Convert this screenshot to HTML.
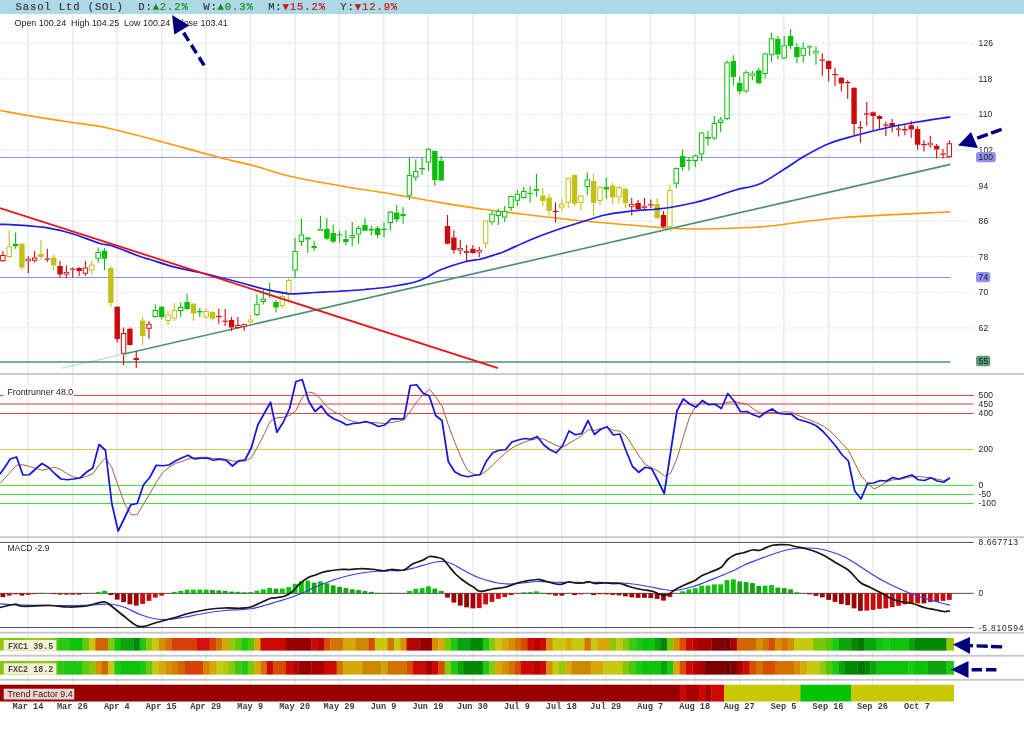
<!DOCTYPE html><html><head><meta charset="utf-8"><title>Sasol Ltd (SOL)</title><style>
html,body{margin:0;padding:0;background:#fff}body{width:1024px;height:735px;overflow:hidden;position:relative}
svg{position:absolute;left:0;top:0;display:block}
.hd{font-family:"Liberation Mono",monospace;font-size:10.6px;letter-spacing:0.86px;fill:#3a3a3a;stroke:#3a3a3a;stroke-width:0.2px}
.ar{font-family:"Liberation Sans",sans-serif;font-size:8.85px;fill:#222}
.ax{font-family:"Liberation Sans",sans-serif;font-size:8.5px;letter-spacing:0.1px;fill:#1c1c1c}
.xl{font-family:"Liberation Mono",monospace;font-size:8.6px;font-weight:bold;fill:#3c3c3c;text-anchor:middle}
.bl{font-family:"Liberation Mono",monospace;font-size:8.4px;font-weight:bold;fill:#484848}
</style></head><body>
<svg width="1024" height="735" viewBox="0 0 1024 735">
<rect x="0" y="0" width="1024" height="735" fill="#fff"/>
<path d="M28.25 14V702 M72.70 14V702 M117.15 14V702 M161.60 14V702 M206.05 14V702 M250.50 14V702 M294.95 14V702 M339.40 14V702 M383.85 14V702 M428.30 14V702 M472.75 14V702 M517.20 14V702 M561.65 14V702 M606.10 14V702 M650.55 14V702 M695.00 14V702 M739.45 14V702 M783.90 14V702 M828.35 14V702 M872.80 14V702 M917.25 14V702" stroke="#e9e9e9" stroke-width="1.3" fill="none"/>
<path d="M0 43.40H973.5 M0 78.95H973.5 M0 114.50H973.5 M0 150.05H973.5 M0 185.60H973.5 M0 221.15H973.5 M0 256.70H973.5 M0 292.25H973.5 M0 327.80H973.5" stroke="#e9e9e9" stroke-width="1.2" stroke-dasharray="2 1" fill="none"/>
<rect x="0" y="0" width="1024" height="14" fill="#add8e6"/>
<text class="hd" x="15.5" y="10" xml:space="preserve">Sasol Ltd (SOL)  D:<tspan fill="#1e8a1e" stroke="#1e8a1e">▲2.2%</tspan>  W:<tspan fill="#1e8a1e" stroke="#1e8a1e">▲0.3%</tspan>  M:<tspan fill="#c01818" stroke="#c01818">▼15.2%</tspan>  Y:<tspan fill="#c01818" stroke="#c01818">▼12.9%</tspan></text>
<text class="ar" style="font-size:8.93px" x="14.5" y="26.3" xml:space="preserve">Open 100.24  High 104.25  Low 100.24  Close 103.41</text>
<rect x="0" y="373.10" width="1024" height="1.8" fill="#c6c6c6"/>
<rect x="0" y="536.30" width="1024" height="1.8" fill="#c6c6c6"/>
<rect x="0" y="631.80" width="1024" height="1.8" fill="#c6c6c6"/>
<rect x="0" y="654.80" width="1024" height="1.8" fill="#c6c6c6"/>
<rect x="0" y="678.90" width="1024" height="1.8" fill="#c6c6c6"/>
<path d="M0 157.4H950.4M0 277.5H950.4" stroke="#8f8ff5" stroke-width="1" fill="none"/>
<path d="M0 362H950.4" stroke="#4c9272" stroke-width="1.6" fill="none"/>
<path d="M0.00 110.50C4.58 111.33 15.42 113.50 27.50 115.50C39.58 117.50 59.17 120.42 72.50 122.50C85.83 124.58 92.92 124.88 107.50 128.00C122.08 131.12 141.67 136.42 160.00 141.25C178.33 146.08 201.54 152.83 217.50 157.00C233.46 161.17 243.67 163.04 255.75 166.25C267.83 169.46 275.96 173.00 290.00 176.25C304.04 179.50 323.33 182.83 340.00 185.75C356.67 188.67 373.33 190.96 390.00 193.75C406.67 196.54 425.00 200.00 440.00 202.50C455.00 205.00 465.00 206.67 480.00 208.75C495.00 210.83 513.33 213.00 530.00 215.00C546.67 217.00 563.33 219.08 580.00 220.75C596.67 222.42 615.83 223.79 630.00 225.00C644.17 226.21 654.17 227.33 665.00 228.00C675.83 228.67 683.21 229.00 695.00 229.00C706.79 229.00 723.58 228.46 735.75 228.00C747.92 227.54 750.12 228.00 768.00 226.25C785.88 224.50 812.58 219.92 843.00 217.50C873.42 215.08 932.58 212.71 950.50 211.75" stroke="#ff9a0a" stroke-width="1.7" fill="none" stroke-linejoin="round"/>
<path d="M61 368.4L125 353.75" stroke="#4c9272" stroke-width="1.4" opacity="0.3" fill="none"/>
<path d="M125 353.75L950.4 164.4" stroke="#4c9272" stroke-width="1.6" fill="none"/>
<path d="M2.87 251.25V255.00M2.87 261.25V262.00" stroke="#cc0a0a" stroke-width="1.1" fill="none"/>
<rect x="0.67" y="255.50" width="4.40" height="5.25" fill="#fff" stroke="#cc0a0a" stroke-width="1"/>
<path d="M9.22 230.00V246.25M9.22 257.00V258.00" stroke="#c3c018" stroke-width="1.1" fill="none"/>
<rect x="7.02" y="246.75" width="4.40" height="9.75" fill="#fff" stroke="#c3c018" stroke-width="1"/>
<path d="M15.57 232.50V243.75M15.57 246.25V248.75" stroke="#0cbd0c" stroke-width="1.1" fill="none"/>
<rect x="12.87" y="243.75" width="5.4" height="2.50" fill="#0cbd0c"/>
<path d="M21.93 243.00V243.75M21.93 267.50V270.00" stroke="#c3c018" stroke-width="1.1" fill="none"/>
<rect x="19.23" y="243.75" width="5.4" height="23.75" fill="#c3c018"/>
<path d="M28.28 256.25V258.75M28.28 261.25V273.00" stroke="#cc0a0a" stroke-width="1.1" fill="none"/>
<rect x="25.98" y="259.15" width="4.60" height="1.70" fill="#fff" stroke="#cc0a0a" stroke-width="0.8"/>
<path d="M34.63 251.00V257.50M34.63 260.75V262.50" stroke="#cc0a0a" stroke-width="1.1" fill="none"/>
<rect x="32.43" y="258.00" width="4.40" height="2.25" fill="#fff" stroke="#cc0a0a" stroke-width="1"/>
<path d="M40.98 240.00V253.75M40.98 257.00V259.50" stroke="#c3c018" stroke-width="1.1" fill="none"/>
<rect x="38.28" y="253.75" width="5.4" height="3.25" fill="#c3c018"/>
<path d="M47.34 248.75V258.52M47.34 259.73V262.00" stroke="#cc0a0a" stroke-width="1.1" fill="none"/>
<rect x="44.64" y="258.52" width="5.4" height="1.20" fill="#cc0a0a"/>
<path d="M53.69 254.50V257.50M53.69 265.50V271.00" stroke="#c3c018" stroke-width="1.1" fill="none"/>
<rect x="50.99" y="257.50" width="5.4" height="8.00" fill="#c3c018"/>
<path d="M60.04 261.00V266.00M60.04 274.50V277.50" stroke="#cc0a0a" stroke-width="1.1" fill="none"/>
<rect x="57.34" y="266.00" width="5.4" height="8.50" fill="#cc0a0a"/>
<path d="M66.39 265.50V272.00M66.39 274.50V278.00" stroke="#cc0a0a" stroke-width="1.1" fill="none"/>
<rect x="64.09" y="272.40" width="4.60" height="1.70" fill="#fff" stroke="#cc0a0a" stroke-width="0.8"/>
<path d="M72.74 267.50V268.52M72.74 269.73V277.50" stroke="#cc0a0a" stroke-width="1.1" fill="none"/>
<rect x="70.04" y="268.52" width="5.4" height="1.20" fill="#cc0a0a"/>
<path d="M79.10 267.00V268.00M79.10 271.00V276.00" stroke="#cc0a0a" stroke-width="1.1" fill="none"/>
<rect x="76.40" y="268.00" width="5.4" height="3.00" fill="#cc0a0a"/>
<path d="M85.45 261.00V267.50M85.45 273.75V275.75" stroke="#cc0a0a" stroke-width="1.1" fill="none"/>
<rect x="83.25" y="268.00" width="4.40" height="5.25" fill="#fff" stroke="#cc0a0a" stroke-width="1"/>
<path d="M91.80 260.75V264.50M91.80 270.50V275.00" stroke="#c3c018" stroke-width="1.1" fill="none"/>
<rect x="89.60" y="265.00" width="4.40" height="5.00" fill="#fff" stroke="#c3c018" stroke-width="1"/>
<path d="M98.15 247.50V252.00M98.15 258.75V262.50" stroke="#0cbd0c" stroke-width="1.1" fill="none"/>
<rect x="95.95" y="252.50" width="4.40" height="5.75" fill="#fff" stroke="#0cbd0c" stroke-width="1"/>
<path d="M104.51 248.00V250.75M104.51 258.75V270.00" stroke="#0cbd0c" stroke-width="1.1" fill="none"/>
<rect x="101.81" y="250.75" width="5.4" height="8.00" fill="#0cbd0c"/>
<path d="M110.86 267.00V268.00M110.86 303.00V307.00" stroke="#c3c018" stroke-width="1.1" fill="none"/>
<rect x="108.16" y="268.00" width="5.4" height="35.00" fill="#c3c018"/>
<path d="M117.21 306.00V306.75M117.21 339.00V342.50" stroke="#cc0a0a" stroke-width="1.1" fill="none"/>
<rect x="114.51" y="306.75" width="5.4" height="32.25" fill="#cc0a0a"/>
<path d="M123.56 327.50V333.00M123.56 353.75V365.00" stroke="#cc0a0a" stroke-width="1.1" fill="none"/>
<rect x="121.36" y="333.50" width="4.40" height="19.75" fill="#fff" stroke="#cc0a0a" stroke-width="1"/>
<path d="M129.91 327.50V328.75M129.91 345.00V345.50" stroke="#cc0a0a" stroke-width="1.1" fill="none"/>
<rect x="127.21" y="328.75" width="5.4" height="16.25" fill="#cc0a0a"/>
<path d="M136.27 351.00V358.00M136.27 360.00V368.00" stroke="#cc0a0a" stroke-width="1.1" fill="none"/>
<rect x="133.57" y="358.00" width="5.4" height="2.00" fill="#cc0a0a"/>
<path d="M142.62 317.00V320.50M142.62 336.00V345.00" stroke="#c3c018" stroke-width="1.1" fill="none"/>
<rect x="139.92" y="320.50" width="5.4" height="15.50" fill="#c3c018"/>
<path d="M148.97 321.00V323.75M148.97 328.75V338.75" stroke="#cc0a0a" stroke-width="1.1" fill="none"/>
<rect x="146.77" y="324.25" width="4.40" height="4.00" fill="#fff" stroke="#cc0a0a" stroke-width="1"/>
<path d="M155.32 304.50V310.00M155.32 317.00V317.50" stroke="#0cbd0c" stroke-width="1.1" fill="none"/>
<rect x="153.12" y="310.50" width="4.40" height="6.00" fill="#fff" stroke="#0cbd0c" stroke-width="1"/>
<path d="M161.68 306.00V306.75M161.68 317.00V319.50" stroke="#0cbd0c" stroke-width="1.1" fill="none"/>
<rect x="158.98" y="306.75" width="5.4" height="10.25" fill="#0cbd0c"/>
<path d="M168.03 311.00V314.50M168.03 321.00V325.00" stroke="#c3c018" stroke-width="1.1" fill="none"/>
<rect x="165.83" y="315.00" width="4.40" height="5.50" fill="#fff" stroke="#c3c018" stroke-width="1"/>
<path d="M174.38 303.00V310.00M174.38 318.75V321.00" stroke="#c3c018" stroke-width="1.1" fill="none"/>
<rect x="172.18" y="310.50" width="4.40" height="7.75" fill="#fff" stroke="#c3c018" stroke-width="1"/>
<path d="M180.73 302.50V307.00M180.73 311.00V317.00" stroke="#0cbd0c" stroke-width="1.1" fill="none"/>
<rect x="178.53" y="307.50" width="4.40" height="3.00" fill="#fff" stroke="#0cbd0c" stroke-width="1"/>
<path d="M187.08 293.75V302.00M187.08 309.00V310.00" stroke="#0cbd0c" stroke-width="1.1" fill="none"/>
<rect x="184.38" y="302.00" width="5.4" height="7.00" fill="#0cbd0c"/>
<path d="M193.44 303.00V303.75M193.44 313.75V321.00" stroke="#c3c018" stroke-width="1.1" fill="none"/>
<rect x="190.74" y="303.75" width="5.4" height="10.00" fill="#c3c018"/>
<path d="M199.79 308.00V311.00M199.79 312.50V317.00" stroke="#0cbd0c" stroke-width="1.1" fill="none"/>
<rect x="197.09" y="311.00" width="5.4" height="1.50" fill="#0cbd0c"/>
<path d="M206.14 308.75V311.00M206.14 317.50V318.75" stroke="#c3c018" stroke-width="1.1" fill="none"/>
<rect x="203.94" y="311.50" width="4.40" height="5.50" fill="#fff" stroke="#c3c018" stroke-width="1"/>
<path d="M212.49 311.00V312.00M212.49 318.75V320.50" stroke="#c3c018" stroke-width="1.1" fill="none"/>
<rect x="209.79" y="312.00" width="5.4" height="6.75" fill="#c3c018"/>
<path d="M218.84 308.75V315.90M218.84 317.10V323.75" stroke="#cc0a0a" stroke-width="1.1" fill="none"/>
<rect x="216.14" y="315.90" width="5.4" height="1.20" fill="#cc0a0a"/>
<path d="M225.20 309.00V320.65M225.20 321.85V326.00" stroke="#cc0a0a" stroke-width="1.1" fill="none"/>
<rect x="222.50" y="320.65" width="5.4" height="1.20" fill="#cc0a0a"/>
<path d="M231.55 317.00V320.00M231.55 327.50V331.00" stroke="#cc0a0a" stroke-width="1.1" fill="none"/>
<rect x="228.85" y="320.00" width="5.4" height="7.50" fill="#cc0a0a"/>
<path d="M237.90 317.00V325.00M237.90 328.00V328.75" stroke="#cc0a0a" stroke-width="1.1" fill="none"/>
<rect x="235.70" y="325.50" width="4.40" height="2.00" fill="#fff" stroke="#cc0a0a" stroke-width="1"/>
<path d="M244.25 323.75V324.00M244.25 326.75V331.00" stroke="#cc0a0a" stroke-width="1.1" fill="none"/>
<rect x="241.95" y="324.40" width="4.60" height="1.95" fill="#fff" stroke="#cc0a0a" stroke-width="0.8"/>
<path d="M250.61 315.50V319.50M250.61 322.50V323.75" stroke="#c3c018" stroke-width="1.1" fill="none"/>
<rect x="248.41" y="320.00" width="4.40" height="2.00" fill="#fff" stroke="#c3c018" stroke-width="1"/>
<path d="M256.96 294.50V303.75M256.96 315.00V316.00" stroke="#0cbd0c" stroke-width="1.1" fill="none"/>
<rect x="254.76" y="304.25" width="4.40" height="10.25" fill="#fff" stroke="#0cbd0c" stroke-width="1"/>
<path d="M263.31 290.00V298.75M263.31 302.00V304.50" stroke="#0cbd0c" stroke-width="1.1" fill="none"/>
<rect x="261.11" y="299.25" width="4.40" height="2.25" fill="#fff" stroke="#0cbd0c" stroke-width="1"/>
<path d="M269.66 283.00V289.90M269.66 291.10V298.00" stroke="#0cbd0c" stroke-width="1.1" fill="none"/>
<rect x="266.96" y="289.90" width="5.4" height="1.20" fill="#0cbd0c"/>
<path d="M276.01 300.00V302.00M276.01 307.50V312.50" stroke="#0cbd0c" stroke-width="1.1" fill="none"/>
<rect x="273.31" y="302.00" width="5.4" height="5.50" fill="#0cbd0c"/>
<path d="M282.37 293.75V296.00M282.37 306.00V308.00" stroke="#c3c018" stroke-width="1.1" fill="none"/>
<rect x="280.17" y="296.50" width="4.40" height="9.00" fill="#fff" stroke="#c3c018" stroke-width="1"/>
<path d="M288.72 277.00V280.00M288.72 295.00V300.00" stroke="#c3c018" stroke-width="1.1" fill="none"/>
<rect x="286.52" y="280.50" width="4.40" height="14.00" fill="#fff" stroke="#c3c018" stroke-width="1"/>
<path d="M295.07 238.00V251.00M295.07 270.50V278.00" stroke="#0cbd0c" stroke-width="1.1" fill="none"/>
<rect x="292.87" y="251.50" width="4.40" height="18.50" fill="#fff" stroke="#0cbd0c" stroke-width="1"/>
<path d="M301.42 218.75V234.50M301.42 242.00V246.00" stroke="#0cbd0c" stroke-width="1.1" fill="none"/>
<rect x="299.22" y="235.00" width="4.40" height="6.50" fill="#fff" stroke="#0cbd0c" stroke-width="1"/>
<path d="M307.78 237.00V237.50M307.78 239.50V253.00" stroke="#0cbd0c" stroke-width="1.1" fill="none"/>
<rect x="305.08" y="237.50" width="5.4" height="2.00" fill="#0cbd0c"/>
<path d="M314.13 240.75V246.00M314.13 248.00V251.00" stroke="#0cbd0c" stroke-width="1.1" fill="none"/>
<rect x="311.43" y="246.00" width="5.4" height="2.00" fill="#0cbd0c"/>
<path d="M320.48 215.75V228.75M320.48 231.00V231.00" stroke="#0cbd0c" stroke-width="1.1" fill="none"/>
<rect x="318.18" y="229.15" width="4.60" height="1.45" fill="#fff" stroke="#0cbd0c" stroke-width="0.8"/>
<path d="M326.83 218.00V228.75M326.83 238.75V240.00" stroke="#0cbd0c" stroke-width="1.1" fill="none"/>
<rect x="324.13" y="228.75" width="5.4" height="10.00" fill="#0cbd0c"/>
<path d="M333.18 224.50V233.00M333.18 241.75V243.00" stroke="#0cbd0c" stroke-width="1.1" fill="none"/>
<rect x="330.48" y="233.00" width="5.4" height="8.75" fill="#0cbd0c"/>
<path d="M339.54 231.00V234.28M339.54 235.47V242.50" stroke="#0cbd0c" stroke-width="1.1" fill="none"/>
<rect x="336.84" y="234.28" width="5.4" height="1.20" fill="#0cbd0c"/>
<path d="M345.89 230.50V239.00M345.89 242.00V245.50" stroke="#0cbd0c" stroke-width="1.1" fill="none"/>
<rect x="343.19" y="239.00" width="5.4" height="3.00" fill="#0cbd0c"/>
<path d="M352.24 222.00V235.00M352.24 238.00V246.00" stroke="#0cbd0c" stroke-width="1.1" fill="none"/>
<rect x="350.04" y="235.50" width="4.40" height="2.00" fill="#fff" stroke="#0cbd0c" stroke-width="1"/>
<path d="M358.59 226.00V228.00M358.59 234.50V243.75" stroke="#0cbd0c" stroke-width="1.1" fill="none"/>
<rect x="356.39" y="228.50" width="4.40" height="5.50" fill="#fff" stroke="#0cbd0c" stroke-width="1"/>
<path d="M364.95 218.00V225.00M364.95 230.75V231.00" stroke="#0cbd0c" stroke-width="1.1" fill="none"/>
<rect x="362.25" y="225.00" width="5.4" height="5.75" fill="#0cbd0c"/>
<path d="M371.30 226.00V229.00M371.30 230.50V235.50" stroke="#0cbd0c" stroke-width="1.1" fill="none"/>
<rect x="368.60" y="229.00" width="5.4" height="1.50" fill="#0cbd0c"/>
<path d="M377.65 226.00V228.00M377.65 235.00V238.00" stroke="#0cbd0c" stroke-width="1.1" fill="none"/>
<rect x="374.95" y="228.00" width="5.4" height="7.00" fill="#0cbd0c"/>
<path d="M384.00 222.50V228.75M384.00 230.00V237.50" stroke="#0cbd0c" stroke-width="1.1" fill="none"/>
<rect x="381.30" y="228.75" width="5.4" height="1.25" fill="#0cbd0c"/>
<path d="M390.35 210.75V211.75M390.35 223.00V230.50" stroke="#0cbd0c" stroke-width="1.1" fill="none"/>
<rect x="388.15" y="212.25" width="4.40" height="10.25" fill="#fff" stroke="#0cbd0c" stroke-width="1"/>
<path d="M396.71 205.00V212.50M396.71 219.50V222.00" stroke="#0cbd0c" stroke-width="1.1" fill="none"/>
<rect x="394.01" y="212.50" width="5.4" height="7.00" fill="#0cbd0c"/>
<path d="M403.06 207.00V214.00M403.06 216.00V223.75" stroke="#0cbd0c" stroke-width="1.1" fill="none"/>
<rect x="400.36" y="214.00" width="5.4" height="2.00" fill="#0cbd0c"/>
<path d="M409.41 157.50V175.00M409.41 195.75V200.00" stroke="#0cbd0c" stroke-width="1.1" fill="none"/>
<rect x="407.21" y="175.50" width="4.40" height="19.75" fill="#fff" stroke="#0cbd0c" stroke-width="1"/>
<path d="M415.76 159.50V171.00M415.76 177.50V181.00" stroke="#0cbd0c" stroke-width="1.1" fill="none"/>
<rect x="413.56" y="171.50" width="4.40" height="5.50" fill="#fff" stroke="#0cbd0c" stroke-width="1"/>
<path d="M422.12 157.50V168.00M422.12 169.50V175.00" stroke="#0cbd0c" stroke-width="1.1" fill="none"/>
<rect x="419.42" y="168.00" width="5.4" height="1.50" fill="#0cbd0c"/>
<path d="M428.47 148.00V148.75M428.47 162.50V171.00" stroke="#0cbd0c" stroke-width="1.1" fill="none"/>
<rect x="426.27" y="149.25" width="4.40" height="12.75" fill="#fff" stroke="#0cbd0c" stroke-width="1"/>
<path d="M434.82 150.75V151.00M434.82 180.00V185.75" stroke="#0cbd0c" stroke-width="1.1" fill="none"/>
<rect x="432.12" y="151.00" width="5.4" height="29.00" fill="#0cbd0c"/>
<path d="M441.17 156.00V160.75M441.17 180.50V181.00" stroke="#0cbd0c" stroke-width="1.1" fill="none"/>
<rect x="438.47" y="160.75" width="5.4" height="19.75" fill="#0cbd0c"/>
<path d="M447.52 215.00V226.00M447.52 243.75V244.50" stroke="#cc0a0a" stroke-width="1.1" fill="none"/>
<rect x="444.82" y="226.00" width="5.4" height="17.75" fill="#cc0a0a"/>
<path d="M453.88 230.50V237.50M453.88 250.00V253.75" stroke="#cc0a0a" stroke-width="1.1" fill="none"/>
<rect x="451.18" y="237.50" width="5.4" height="12.50" fill="#cc0a0a"/>
<path d="M460.23 240.00V248.00M460.23 250.50V254.50" stroke="#cc0a0a" stroke-width="1.1" fill="none"/>
<rect x="457.93" y="248.40" width="4.60" height="1.70" fill="#fff" stroke="#cc0a0a" stroke-width="0.8"/>
<path d="M466.58 245.00V251.00M466.58 253.00V261.00" stroke="#cc0a0a" stroke-width="1.1" fill="none"/>
<rect x="464.28" y="251.40" width="4.60" height="1.20" fill="#fff" stroke="#cc0a0a" stroke-width="0.8"/>
<path d="M472.93 245.00V248.75M472.93 253.00V253.75" stroke="#cc0a0a" stroke-width="1.1" fill="none"/>
<rect x="470.23" y="248.75" width="5.4" height="4.25" fill="#cc0a0a"/>
<path d="M479.28 246.75V250.00M479.28 252.50V257.00" stroke="#cc0a0a" stroke-width="1.1" fill="none"/>
<rect x="476.98" y="250.40" width="4.60" height="1.70" fill="#fff" stroke="#cc0a0a" stroke-width="0.8"/>
<path d="M485.64 220.00V220.50M485.64 243.75V248.00" stroke="#c3c018" stroke-width="1.1" fill="none"/>
<rect x="483.44" y="221.00" width="4.40" height="22.25" fill="#fff" stroke="#c3c018" stroke-width="1"/>
<path d="M491.99 211.00V213.75M491.99 222.25V225.00" stroke="#0cbd0c" stroke-width="1.1" fill="none"/>
<rect x="489.79" y="214.25" width="4.40" height="7.50" fill="#fff" stroke="#0cbd0c" stroke-width="1"/>
<path d="M498.34 208.75V211.00M498.34 216.00V225.00" stroke="#0cbd0c" stroke-width="1.1" fill="none"/>
<rect x="496.14" y="211.50" width="4.40" height="4.00" fill="#fff" stroke="#0cbd0c" stroke-width="1"/>
<path d="M504.69 206.00V211.00M504.69 217.50V222.00" stroke="#0cbd0c" stroke-width="1.1" fill="none"/>
<rect x="502.49" y="211.50" width="4.40" height="5.50" fill="#fff" stroke="#0cbd0c" stroke-width="1"/>
<path d="M511.05 195.75V196.00M511.05 208.00V211.00" stroke="#0cbd0c" stroke-width="1.1" fill="none"/>
<rect x="508.85" y="196.50" width="4.40" height="11.00" fill="#fff" stroke="#0cbd0c" stroke-width="1"/>
<path d="M517.40 190.00V193.75M517.40 200.75V206.00" stroke="#0cbd0c" stroke-width="1.1" fill="none"/>
<rect x="515.20" y="194.25" width="4.40" height="6.00" fill="#fff" stroke="#0cbd0c" stroke-width="1"/>
<path d="M523.75 187.00V191.00M523.75 198.00V198.75" stroke="#0cbd0c" stroke-width="1.1" fill="none"/>
<rect x="521.55" y="191.50" width="4.40" height="6.00" fill="#fff" stroke="#0cbd0c" stroke-width="1"/>
<path d="M530.10 186.00V192.78M530.10 193.97V202.50" stroke="#0cbd0c" stroke-width="1.1" fill="none"/>
<rect x="527.40" y="192.78" width="5.4" height="1.20" fill="#0cbd0c"/>
<path d="M536.45 173.75V189.00M536.45 190.75V197.00" stroke="#0cbd0c" stroke-width="1.1" fill="none"/>
<rect x="533.75" y="189.00" width="5.4" height="1.75" fill="#0cbd0c"/>
<path d="M542.81 188.00V195.50M542.81 201.00V206.00" stroke="#c3c018" stroke-width="1.1" fill="none"/>
<rect x="540.11" y="195.50" width="5.4" height="5.50" fill="#c3c018"/>
<path d="M549.16 193.75V197.50M549.16 211.00V215.50" stroke="#c3c018" stroke-width="1.1" fill="none"/>
<rect x="546.46" y="197.50" width="5.4" height="13.50" fill="#c3c018"/>
<path d="M555.51 202.50V210.90M555.51 212.10V222.50" stroke="#cc0a0a" stroke-width="1.1" fill="none"/>
<rect x="552.81" y="210.90" width="5.4" height="1.20" fill="#cc0a0a"/>
<path d="M561.86 198.75V203.75M561.86 207.50V211.00" stroke="#c3c018" stroke-width="1.1" fill="none"/>
<rect x="559.66" y="204.25" width="4.40" height="2.75" fill="#fff" stroke="#c3c018" stroke-width="1"/>
<path d="M568.22 177.50V178.00M568.22 203.00V208.00" stroke="#c3c018" stroke-width="1.1" fill="none"/>
<rect x="566.02" y="178.50" width="4.40" height="24.00" fill="#fff" stroke="#c3c018" stroke-width="1"/>
<path d="M574.57 174.50V175.00M574.57 203.75V206.00" stroke="#c3c018" stroke-width="1.1" fill="none"/>
<rect x="571.87" y="175.00" width="5.4" height="28.75" fill="#c3c018"/>
<path d="M580.92 195.00V195.50M580.92 203.00V210.00" stroke="#c3c018" stroke-width="1.1" fill="none"/>
<rect x="578.72" y="196.00" width="4.40" height="6.50" fill="#fff" stroke="#c3c018" stroke-width="1"/>
<path d="M587.27 172.50V179.50M587.27 187.00V195.00" stroke="#0cbd0c" stroke-width="1.1" fill="none"/>
<rect x="585.07" y="180.00" width="4.40" height="6.50" fill="#fff" stroke="#0cbd0c" stroke-width="1"/>
<path d="M593.62 173.75V181.00M593.62 203.00V216.00" stroke="#c3c018" stroke-width="1.1" fill="none"/>
<rect x="590.92" y="181.00" width="5.4" height="22.00" fill="#c3c018"/>
<path d="M599.98 186.00V187.00M599.98 201.00V205.00" stroke="#c3c018" stroke-width="1.1" fill="none"/>
<rect x="597.78" y="187.50" width="4.40" height="13.00" fill="#fff" stroke="#c3c018" stroke-width="1"/>
<path d="M606.33 177.50V187.00M606.33 189.50V198.75" stroke="#0cbd0c" stroke-width="1.1" fill="none"/>
<rect x="603.63" y="187.00" width="5.4" height="2.50" fill="#0cbd0c"/>
<path d="M612.68 182.50V185.50M612.68 197.50V203.75" stroke="#c3c018" stroke-width="1.1" fill="none"/>
<rect x="609.98" y="185.50" width="5.4" height="12.00" fill="#c3c018"/>
<path d="M619.03 186.00V187.00M619.03 197.50V203.75" stroke="#c3c018" stroke-width="1.1" fill="none"/>
<rect x="616.83" y="187.50" width="4.40" height="9.50" fill="#fff" stroke="#c3c018" stroke-width="1"/>
<path d="M625.39 187.50V188.75M625.39 203.00V208.00" stroke="#c3c018" stroke-width="1.1" fill="none"/>
<rect x="622.69" y="188.75" width="5.4" height="14.25" fill="#c3c018"/>
<path d="M631.74 198.00V204.00M631.74 206.75V215.50" stroke="#cc0a0a" stroke-width="1.1" fill="none"/>
<rect x="629.44" y="204.40" width="4.60" height="1.95" fill="#fff" stroke="#cc0a0a" stroke-width="0.8"/>
<path d="M638.09 200.00V203.00M638.09 209.00V210.00" stroke="#cc0a0a" stroke-width="1.1" fill="none"/>
<rect x="635.39" y="203.00" width="5.4" height="6.00" fill="#cc0a0a"/>
<path d="M644.44 198.00V205.75M644.44 208.00V210.00" stroke="#cc0a0a" stroke-width="1.1" fill="none"/>
<rect x="642.14" y="206.15" width="4.60" height="1.45" fill="#fff" stroke="#cc0a0a" stroke-width="0.8"/>
<path d="M650.79 199.50V204.28M650.79 205.47V208.00" stroke="#cc0a0a" stroke-width="1.1" fill="none"/>
<rect x="648.09" y="204.28" width="5.4" height="1.20" fill="#cc0a0a"/>
<path d="M657.15 198.00V204.00M657.15 218.00V219.50" stroke="#c3c018" stroke-width="1.1" fill="none"/>
<rect x="654.45" y="204.00" width="5.4" height="14.00" fill="#c3c018"/>
<path d="M663.50 211.00V215.00M663.50 226.75V228.00" stroke="#cc0a0a" stroke-width="1.1" fill="none"/>
<rect x="660.80" y="215.00" width="5.4" height="11.75" fill="#cc0a0a"/>
<path d="M669.85 185.00V190.00M669.85 227.50V228.75" stroke="#c3c018" stroke-width="1.1" fill="none"/>
<rect x="667.65" y="190.50" width="4.40" height="36.50" fill="#fff" stroke="#c3c018" stroke-width="1"/>
<path d="M676.20 167.50V168.00M676.20 183.75V188.00" stroke="#0cbd0c" stroke-width="1.1" fill="none"/>
<rect x="674.00" y="168.50" width="4.40" height="14.75" fill="#fff" stroke="#0cbd0c" stroke-width="1"/>
<path d="M682.56 149.50V156.00M682.56 167.00V170.50" stroke="#0cbd0c" stroke-width="1.1" fill="none"/>
<rect x="679.86" y="156.00" width="5.4" height="11.00" fill="#0cbd0c"/>
<path d="M688.91 157.00V159.78M688.91 160.97V170.50" stroke="#0cbd0c" stroke-width="1.1" fill="none"/>
<rect x="686.21" y="159.78" width="5.4" height="1.20" fill="#0cbd0c"/>
<path d="M695.26 154.50V155.50M695.26 161.00V167.00" stroke="#0cbd0c" stroke-width="1.1" fill="none"/>
<rect x="693.06" y="156.00" width="4.40" height="4.50" fill="#fff" stroke="#0cbd0c" stroke-width="1"/>
<path d="M701.61 132.00V132.50M701.61 154.50V161.00" stroke="#0cbd0c" stroke-width="1.1" fill="none"/>
<rect x="699.41" y="133.00" width="4.40" height="21.00" fill="#fff" stroke="#0cbd0c" stroke-width="1"/>
<path d="M707.96 130.50V137.00M707.96 138.75V145.50" stroke="#0cbd0c" stroke-width="1.1" fill="none"/>
<rect x="705.26" y="137.00" width="5.4" height="1.75" fill="#0cbd0c"/>
<path d="M714.32 116.00V123.00M714.32 138.50V140.00" stroke="#0cbd0c" stroke-width="1.1" fill="none"/>
<rect x="712.12" y="123.50" width="4.40" height="14.50" fill="#fff" stroke="#0cbd0c" stroke-width="1"/>
<path d="M720.67 117.00V119.50M720.67 123.00V132.00" stroke="#0cbd0c" stroke-width="1.1" fill="none"/>
<rect x="718.47" y="120.00" width="4.40" height="2.50" fill="#fff" stroke="#0cbd0c" stroke-width="1"/>
<path d="M727.02 60.25V62.25M727.02 119.00V120.25" stroke="#0cbd0c" stroke-width="1.1" fill="none"/>
<rect x="724.82" y="62.75" width="4.40" height="55.75" fill="#fff" stroke="#0cbd0c" stroke-width="1"/>
<path d="M733.37 55.25V61.00M733.37 77.00V85.25" stroke="#0cbd0c" stroke-width="1.1" fill="none"/>
<rect x="730.67" y="61.00" width="5.4" height="16.00" fill="#0cbd0c"/>
<path d="M739.73 76.50V82.75M739.73 91.50V94.50" stroke="#0cbd0c" stroke-width="1.1" fill="none"/>
<rect x="737.03" y="82.75" width="5.4" height="8.75" fill="#0cbd0c"/>
<path d="M746.08 70.25V72.25M746.08 91.50V92.75" stroke="#0cbd0c" stroke-width="1.1" fill="none"/>
<rect x="743.88" y="72.75" width="4.40" height="18.25" fill="#fff" stroke="#0cbd0c" stroke-width="1"/>
<path d="M752.43 71.00V73.25M752.43 75.75V80.25" stroke="#0cbd0c" stroke-width="1.1" fill="none"/>
<rect x="750.13" y="73.65" width="4.60" height="1.70" fill="#fff" stroke="#0cbd0c" stroke-width="0.8"/>
<path d="M758.78 67.75V70.25M758.78 83.25V84.50" stroke="#0cbd0c" stroke-width="1.1" fill="none"/>
<rect x="756.08" y="70.25" width="5.4" height="13.00" fill="#0cbd0c"/>
<path d="M765.13 52.75V53.50M765.13 74.00V78.50" stroke="#0cbd0c" stroke-width="1.1" fill="none"/>
<rect x="762.93" y="54.00" width="4.40" height="19.50" fill="#fff" stroke="#0cbd0c" stroke-width="1"/>
<path d="M771.49 32.75V38.25M771.49 55.25V62.00" stroke="#0cbd0c" stroke-width="1.1" fill="none"/>
<rect x="769.29" y="38.75" width="4.40" height="16.00" fill="#fff" stroke="#0cbd0c" stroke-width="1"/>
<path d="M777.84 36.00V39.00M777.84 54.50V59.50" stroke="#0cbd0c" stroke-width="1.1" fill="none"/>
<rect x="775.14" y="39.00" width="5.4" height="15.50" fill="#0cbd0c"/>
<path d="M784.19 36.00V45.25M784.19 58.50V59.50" stroke="#0cbd0c" stroke-width="1.1" fill="none"/>
<rect x="781.99" y="45.75" width="4.40" height="12.25" fill="#fff" stroke="#0cbd0c" stroke-width="1"/>
<path d="M790.54 29.00V36.00M790.54 46.00V49.00" stroke="#0cbd0c" stroke-width="1.1" fill="none"/>
<rect x="787.84" y="36.00" width="5.4" height="10.00" fill="#0cbd0c"/>
<path d="M796.89 43.50V47.00M796.89 57.25V63.25" stroke="#0cbd0c" stroke-width="1.1" fill="none"/>
<rect x="794.19" y="47.00" width="5.4" height="10.25" fill="#0cbd0c"/>
<path d="M803.25 42.25V47.75M803.25 55.75V62.75" stroke="#0cbd0c" stroke-width="1.1" fill="none"/>
<rect x="801.05" y="48.25" width="4.40" height="7.00" fill="#fff" stroke="#0cbd0c" stroke-width="1"/>
<path d="M809.60 45.25V46.27M809.60 47.48V56.00" stroke="#0cbd0c" stroke-width="1.1" fill="none"/>
<rect x="806.90" y="46.27" width="5.4" height="1.20" fill="#0cbd0c"/>
<path d="M815.95 46.50V51.00M815.95 53.50V64.75" stroke="#0cbd0c" stroke-width="1.1" fill="none"/>
<rect x="813.65" y="51.40" width="4.60" height="1.70" fill="#fff" stroke="#0cbd0c" stroke-width="0.8"/>
<path d="M822.30 53.25V59.50M822.30 60.75V75.75" stroke="#cc0a0a" stroke-width="1.1" fill="none"/>
<rect x="819.60" y="59.50" width="5.4" height="1.25" fill="#cc0a0a"/>
<path d="M828.66 60.25V61.00M828.66 69.00V81.50" stroke="#cc0a0a" stroke-width="1.1" fill="none"/>
<rect x="825.96" y="61.00" width="5.4" height="8.00" fill="#cc0a0a"/>
<path d="M835.01 67.75V74.00M835.01 75.25V86.00" stroke="#cc0a0a" stroke-width="1.1" fill="none"/>
<rect x="832.31" y="74.00" width="5.4" height="1.25" fill="#cc0a0a"/>
<path d="M841.36 77.00V77.75M841.36 83.50V91.50" stroke="#cc0a0a" stroke-width="1.1" fill="none"/>
<rect x="838.66" y="77.75" width="5.4" height="5.75" fill="#cc0a0a"/>
<path d="M847.71 80.25V82.00M847.71 83.25V99.00" stroke="#cc0a0a" stroke-width="1.1" fill="none"/>
<rect x="845.01" y="82.00" width="5.4" height="1.25" fill="#cc0a0a"/>
<path d="M854.06 87.25V87.75M854.06 124.00V135.25" stroke="#cc0a0a" stroke-width="1.1" fill="none"/>
<rect x="851.36" y="87.75" width="5.4" height="36.25" fill="#cc0a0a"/>
<path d="M860.42 121.00V127.15M860.42 128.35V142.75" stroke="#cc0a0a" stroke-width="1.1" fill="none"/>
<rect x="857.72" y="127.15" width="5.4" height="1.20" fill="#cc0a0a"/>
<path d="M866.77 102.00V113.40M866.77 114.60V125.75" stroke="#cc0a0a" stroke-width="1.1" fill="none"/>
<rect x="864.07" y="113.40" width="5.4" height="1.20" fill="#cc0a0a"/>
<path d="M873.12 111.50V112.25M873.12 116.00V131.00" stroke="#cc0a0a" stroke-width="1.1" fill="none"/>
<rect x="870.42" y="112.25" width="5.4" height="3.75" fill="#cc0a0a"/>
<path d="M879.47 115.25V116.00M879.47 119.00V129.00" stroke="#cc0a0a" stroke-width="1.1" fill="none"/>
<rect x="876.77" y="116.00" width="5.4" height="3.00" fill="#cc0a0a"/>
<path d="M885.83 121.50V124.50M885.83 125.75V136.00" stroke="#cc0a0a" stroke-width="1.1" fill="none"/>
<rect x="883.13" y="124.50" width="5.4" height="1.25" fill="#cc0a0a"/>
<path d="M892.18 119.00V123.00M892.18 126.50V132.00" stroke="#cc0a0a" stroke-width="1.1" fill="none"/>
<rect x="889.48" y="123.00" width="5.4" height="3.50" fill="#cc0a0a"/>
<path d="M898.53 124.00V128.50M898.53 129.75V136.50" stroke="#cc0a0a" stroke-width="1.1" fill="none"/>
<rect x="895.83" y="128.50" width="5.4" height="1.25" fill="#cc0a0a"/>
<path d="M904.88 125.25V129.00M904.88 130.50V135.25" stroke="#cc0a0a" stroke-width="1.1" fill="none"/>
<rect x="902.18" y="129.00" width="5.4" height="1.50" fill="#cc0a0a"/>
<path d="M911.23 120.75V125.25M911.23 129.50V137.75" stroke="#cc0a0a" stroke-width="1.1" fill="none"/>
<rect x="908.53" y="125.25" width="5.4" height="4.25" fill="#cc0a0a"/>
<path d="M917.59 126.50V129.00M917.59 144.75V149.75" stroke="#cc0a0a" stroke-width="1.1" fill="none"/>
<rect x="914.89" y="129.00" width="5.4" height="15.75" fill="#cc0a0a"/>
<path d="M923.94 140.25V144.00M923.94 145.25V151.50" stroke="#cc0a0a" stroke-width="1.1" fill="none"/>
<rect x="921.24" y="144.00" width="5.4" height="1.25" fill="#cc0a0a"/>
<path d="M930.29 135.75V142.75M930.29 145.25V147.75" stroke="#cc0a0a" stroke-width="1.1" fill="none"/>
<rect x="927.99" y="143.15" width="4.60" height="1.70" fill="#fff" stroke="#cc0a0a" stroke-width="0.8"/>
<path d="M936.64 144.00V145.75M936.64 149.50V158.50" stroke="#cc0a0a" stroke-width="1.1" fill="none"/>
<rect x="933.94" y="145.75" width="5.4" height="3.75" fill="#cc0a0a"/>
<path d="M943.00 149.00V153.50M943.00 154.75V158.50" stroke="#cc0a0a" stroke-width="1.1" fill="none"/>
<rect x="940.30" y="153.50" width="5.4" height="1.25" fill="#cc0a0a"/>
<path d="M949.35 140.25V143.25M949.35 157.25V157.75" stroke="#cc0a0a" stroke-width="1.1" fill="none"/>
<rect x="947.15" y="143.75" width="4.40" height="13.00" fill="#fff" stroke="#cc0a0a" stroke-width="1"/>
<path d="M0.00 224.40C2.92 224.52 9.17 224.45 17.50 225.10C25.83 225.75 40.83 226.86 50.00 228.30C59.17 229.74 64.17 231.22 72.50 233.75C80.83 236.28 93.33 241.46 100.00 243.50C106.67 245.54 105.83 243.83 112.50 246.00C119.17 248.17 133.75 254.25 140.00 256.50C146.25 258.75 144.17 257.72 150.00 259.50C155.83 261.28 166.67 265.03 175.00 267.20C183.33 269.37 189.17 269.95 200.00 272.50C210.83 275.05 229.17 279.71 240.00 282.50C250.83 285.29 256.67 287.38 265.00 289.25C273.33 291.12 281.67 293.21 290.00 293.75C298.33 294.29 306.67 292.92 315.00 292.50C323.33 292.08 331.67 291.75 340.00 291.25C348.33 290.75 356.67 290.25 365.00 289.50C373.33 288.75 381.67 288.00 390.00 286.75C398.33 285.50 408.75 283.62 415.00 282.00C421.25 280.38 423.33 279.00 427.50 277.00C431.67 275.00 433.75 272.54 440.00 270.00C446.25 267.46 458.33 263.54 465.00 261.75C471.67 259.96 474.88 260.46 480.00 259.25C485.12 258.04 491.58 255.83 495.75 254.50C499.92 253.17 499.29 253.67 505.00 251.25C510.71 248.83 521.67 243.46 530.00 240.00C538.33 236.54 546.67 233.42 555.00 230.50C563.33 227.58 571.67 225.08 580.00 222.50C588.33 219.92 596.67 216.88 605.00 215.00C613.33 213.12 621.67 212.21 630.00 211.25C638.33 210.29 648.33 209.88 655.00 209.25C661.67 208.62 663.33 208.62 670.00 207.50C676.67 206.38 688.00 204.12 695.00 202.50C702.00 200.88 705.21 199.83 712.00 197.75C718.79 195.67 727.83 192.29 735.75 190.00C743.67 187.71 751.38 187.50 759.50 184.00C767.62 180.50 777.25 173.50 784.50 169.00C791.75 164.50 795.75 161.17 803.00 157.00C810.25 152.83 819.42 147.54 828.00 144.00C836.58 140.46 844.67 138.46 854.50 135.75C864.33 133.04 876.58 130.04 887.00 127.75C897.42 125.46 906.43 123.81 917.00 122.00C927.57 120.19 944.83 117.75 950.40 116.90" stroke="#1c1cee" stroke-width="1.75" fill="none" stroke-linejoin="round"/>
<path d="M0 208L498 368.2" stroke="#ee1111" stroke-width="1.8" fill="none"/>
<circle cx="125" cy="354" r="2.2" fill="none" stroke="#9fc3b0" stroke-width="0.8"/><circle cx="670.5" cy="228.5" r="2.2" fill="none" stroke="#9fc3b0" stroke-width="0.8"/>
<text class="ax" x="978.6" y="46.30">126</text>
<text class="ax" x="978.6" y="81.85">118</text>
<text class="ax" x="978.6" y="117.40">110</text>
<text class="ax" x="978.6" y="152.95">102</text>
<text class="ax" x="978.6" y="188.50">94</text>
<text class="ax" x="978.6" y="224.05">86</text>
<text class="ax" x="978.6" y="259.60">78</text>
<text class="ax" x="978.6" y="295.15">70</text>
<text class="ax" x="978.6" y="330.70">62</text>
<rect x="976" y="152" width="19.8" height="10.3" rx="2.5" fill="#9090f0"/><text class="ax" x="978.6" y="160.1">100</text>
<rect x="976" y="272" width="14.2" height="10.2" rx="2.5" fill="#9090f0"/><text class="ax" x="978.6" y="280.1">74</text>
<rect x="976" y="355.8" width="14.2" height="10.4" rx="2.5" fill="#5a9a7c"/><text class="ax" x="978.6" y="364.2">55</text>
<path d="M0 395.45H973.7M0 404H973.7M0 413.45H973.7" stroke="#dc3c3c" stroke-width="1" fill="none"/>
<path d="M0 449.45H973.7" stroke="#dcc24a" stroke-width="1" fill="none"/>
<path d="M0 485.35H973.7M0 494.45H973.7M0 503.45H973.7" stroke="#3fd03f" stroke-width="1" fill="none"/>
<rect x="3.5" y="386" width="70" height="11" fill="#fff"/>
<text class="ar" x="7.4" y="394.7">Frontrunner 48.0</text>
<path d="M0.00 483.50 L16.50 465.25 L23.00 464.75 L29.50 466.50 L42.00 470.25 L54.75 467.25 L61.25 469.75 L67.50 474.00 L74.00 477.25 L80.25 478.00 L86.50 476.50 L93.00 473.50 L99.25 464.75 L105.50 458.00 L111.75 467.25 L118.25 486.00 L124.50 503.50 L131.00 514.75 L137.25 514.75 L143.75 503.50 L150.00 493.50 L156.25 482.25 L162.50 473.00 L169.00 467.25 L175.25 463.50 L181.75 461.50 L188.00 459.00 L194.25 457.75 L200.75 457.25 L207.00 457.25 L213.50 458.50 L219.75 458.50 L226.25 459.25 L232.50 461.00 L238.75 461.50 L245.00 461.00 L251.25 458.00 L258.00 446.00 L264.50 433.50 L270.00 421.50 L277.00 417.75 L283.75 417.25 L290.00 415.25 L296.00 410.50 L302.25 397.25 L308.75 392.00 L315.00 393.50 L321.25 399.75 L327.50 407.25 L334.00 411.75 L340.50 414.75 L347.00 419.25 L353.25 421.50 L359.50 422.75 L365.75 422.25 L372.25 422.50 L378.75 423.00 L385.00 423.50 L391.25 422.50 L397.75 421.50 L404.00 419.75 L410.50 411.00 L416.75 401.75 L423.25 394.75 L429.50 389.25 L435.75 397.25 L442.00 406.00 L448.25 424.75 L454.75 442.25 L461.00 457.25 L467.50 470.50 L473.75 474.25 L480.00 475.25 L486.25 471.00 L493.00 464.75 L499.25 458.50 L505.75 452.75 L512.00 448.00 L518.25 444.75 L524.50 442.00 L531.00 440.00 L537.25 438.50 L543.50 439.00 L550.00 442.25 L556.25 445.50 L562.50 447.25 L569.00 443.50 L575.25 439.75 L581.75 435.50 L588.25 429.75 L594.50 430.50 L600.75 428.50 L607.00 427.25 L613.50 430.50 L620.00 431.00 L626.25 436.00 L632.50 446.00 L639.00 456.00 L645.25 464.25 L651.50 467.75 L658.00 471.00 L664.50 476.00 L670.50 473.50 L677.00 458.50 L683.25 437.25 L689.50 417.25 L696.00 405.50 L702.25 403.00 L708.75 403.50 L715.00 404.00 L721.50 404.00 L728.25 402.25 L734.50 401.50 L740.75 403.00 L747.25 404.25 L753.50 409.00 L759.75 413.00 L766.25 412.75 L772.50 412.50 L778.75 412.50 L785.00 411.75 L791.50 412.25 L797.75 415.25 L804.25 417.75 L810.50 420.25 L817.00 423.00 L823.25 426.00 L829.50 430.50 L836.00 436.75 L842.25 443.50 L848.50 450.50 L855.00 463.50 L861.25 476.00 L867.50 483.00 L874.00 489.00 L880.25 486.00 L886.75 481.75 L893.00 479.75 L899.50 479.25 L905.75 478.00 L912.00 476.50 L918.50 476.50 L925.00 477.25 L931.25 477.75 L937.50 479.25 L943.75 480.50 L950.00 478.50" stroke="#a9623c" stroke-width="1" fill="none" stroke-linejoin="round"/>
<path d="M-2.50 477.25 L3.85 468.75 L10.20 459.00 L16.55 457.00 L22.90 475.00 L29.25 474.75 L35.60 469.00 L41.95 463.50 L48.30 467.25 L54.65 473.50 L61.00 479.00 L67.35 479.75 L73.70 479.00 L80.05 478.00 L86.40 472.25 L92.75 468.00 L99.10 444.50 L105.45 450.25 L111.80 503.50 L118.15 531.00 L124.50 518.00 L130.85 504.75 L137.20 503.50 L143.55 484.75 L149.90 477.25 L156.25 465.25 L162.60 465.75 L168.95 465.00 L175.30 461.00 L181.65 458.00 L188.00 455.25 L194.35 459.00 L200.70 458.25 L207.05 458.00 L213.40 460.25 L219.75 459.25 L226.10 460.25 L232.45 466.00 L238.80 460.75 L245.15 459.75 L251.50 447.25 L257.85 424.75 L264.20 413.50 L270.55 402.25 L276.90 432.25 L283.25 422.25 L289.60 408.50 L295.95 381.50 L302.30 379.75 L308.65 401.00 L315.00 411.50 L321.35 406.00 L327.70 414.75 L334.05 419.00 L340.40 421.50 L346.75 425.00 L353.10 423.50 L359.45 423.00 L365.80 421.50 L372.15 423.50 L378.50 426.50 L384.85 425.00 L391.20 418.75 L397.55 418.75 L403.90 419.00 L410.25 385.50 L416.60 384.75 L422.95 393.00 L429.30 396.00 L435.65 415.50 L442.00 420.50 L448.35 461.75 L454.70 471.75 L461.05 475.25 L467.40 476.75 L473.75 475.50 L480.10 474.50 L486.45 461.00 L492.80 452.75 L499.15 450.25 L505.50 449.75 L511.85 442.00 L518.20 440.00 L524.55 438.50 L530.90 439.25 L537.25 436.50 L543.60 444.75 L549.95 449.75 L556.30 452.75 L562.65 445.50 L569.00 431.00 L575.35 434.75 L581.70 433.50 L588.05 420.50 L594.40 434.50 L600.75 429.25 L607.10 426.75 L613.45 435.00 L619.80 434.00 L626.15 451.00 L632.50 466.50 L638.85 472.25 L645.20 467.25 L651.55 468.50 L657.90 480.50 L664.25 493.50 L670.60 452.25 L676.95 411.00 L683.30 399.00 L689.65 404.00 L696.00 407.25 L702.35 400.50 L708.70 404.75 L715.05 404.25 L721.40 408.50 L727.75 393.50 L734.10 401.00 L740.45 411.75 L746.80 411.50 L753.15 414.75 L759.50 417.00 L765.85 412.25 L772.20 409.00 L778.55 413.50 L784.90 414.00 L791.25 414.00 L797.60 419.25 L803.95 421.00 L810.30 423.00 L816.65 426.00 L823.00 431.50 L829.35 438.50 L835.70 446.00 L842.05 454.75 L848.40 461.00 L854.75 491.00 L861.10 499.00 L867.45 483.50 L873.80 483.00 L880.15 480.50 L886.50 481.00 L892.85 477.50 L899.20 479.00 L905.55 476.75 L911.90 475.00 L918.25 479.75 L924.60 480.50 L930.95 477.75 L937.30 481.00 L943.65 482.25 L950.00 477.75" stroke="#1616e0" stroke-width="1.75" fill="none" stroke-linejoin="round"/>
<text class="ax" x="978.6" y="398.25">500</text>
<text class="ax" x="978.6" y="407.00">450</text>
<text class="ax" x="978.6" y="416.00">400</text>
<text class="ax" x="978.6" y="452.25">200</text>
<text class="ax" x="978.6" y="488.10">0</text>
<text class="ax" x="978.6" y="497.30">-50</text>
<text class="ax" x="978.6" y="506.30">-100</text>
<path d="M0 542.4H973.7M0 593.35H973.7M0 627.5H973.7" stroke="#505050" stroke-width="1" fill="none"/>
<text class="ar" style="font-size:8.5px" x="7.4" y="550.6">MACD -2.9</text>
<rect x="0.47" y="593.35" width="4.8" height="3.75" fill="#9a0404"/>
<rect x="6.82" y="593.35" width="4.8" height="2.25" fill="#cc0a0a"/>
<rect x="13.17" y="593.35" width="4.8" height="1.00" fill="#cc0a0a"/>
<rect x="19.53" y="593.35" width="4.8" height="2.25" fill="#9a0404"/>
<rect x="25.88" y="593.35" width="4.8" height="1.50" fill="#cc0a0a"/>
<rect x="32.23" y="593.35" width="4.8" height="0.75" fill="#cc0a0a"/>
<rect x="38.58" y="592.85" width="4.8" height="0.50" fill="#0cc20c"/>
<rect x="51.29" y="593.35" width="4.8" height="0.75" fill="#9a0404"/>
<rect x="57.64" y="593.35" width="4.8" height="1.25" fill="#9a0404"/>
<rect x="63.99" y="593.35" width="4.8" height="1.25" fill="#9a0404"/>
<rect x="70.34" y="593.35" width="4.8" height="1.25" fill="#9a0404"/>
<rect x="76.70" y="593.35" width="4.8" height="1.25" fill="#9a0404"/>
<rect x="83.05" y="593.35" width="4.8" height="0.50" fill="#cc0a0a"/>
<rect x="95.75" y="591.85" width="4.8" height="1.50" fill="#0cc20c"/>
<rect x="102.11" y="590.85" width="4.8" height="2.50" fill="#0cc20c"/>
<rect x="108.46" y="593.35" width="4.8" height="1.75" fill="#9a0404"/>
<rect x="114.81" y="593.35" width="4.8" height="6.25" fill="#9a0404"/>
<rect x="121.16" y="593.35" width="4.8" height="8.75" fill="#9a0404"/>
<rect x="127.51" y="593.35" width="4.8" height="11.00" fill="#9a0404"/>
<rect x="133.87" y="593.35" width="4.8" height="12.25" fill="#9a0404"/>
<rect x="140.22" y="593.35" width="4.8" height="10.50" fill="#cc0a0a"/>
<rect x="146.57" y="593.35" width="4.8" height="7.50" fill="#cc0a0a"/>
<rect x="152.92" y="593.35" width="4.8" height="4.25" fill="#cc0a0a"/>
<rect x="159.28" y="593.35" width="4.8" height="2.25" fill="#cc0a0a"/>
<rect x="171.98" y="591.85" width="4.8" height="1.50" fill="#0cc20c"/>
<rect x="178.33" y="590.85" width="4.8" height="2.50" fill="#0cc20c"/>
<rect x="184.68" y="589.60" width="4.8" height="3.75" fill="#0cc20c"/>
<rect x="191.04" y="589.60" width="4.8" height="3.75" fill="#0cc20c"/>
<rect x="197.39" y="589.60" width="4.8" height="3.75" fill="#0cc20c"/>
<rect x="203.74" y="589.60" width="4.8" height="3.75" fill="#0cc20c"/>
<rect x="210.09" y="590.10" width="4.8" height="3.25" fill="#12a612"/>
<rect x="216.44" y="590.35" width="4.8" height="3.00" fill="#12a612"/>
<rect x="222.80" y="590.85" width="4.8" height="2.50" fill="#12a612"/>
<rect x="229.15" y="591.60" width="4.8" height="1.75" fill="#12a612"/>
<rect x="235.50" y="591.85" width="4.8" height="1.50" fill="#12a612"/>
<rect x="241.85" y="592.35" width="4.8" height="1.00" fill="#12a612"/>
<rect x="248.21" y="592.10" width="4.8" height="1.25" fill="#0cc20c"/>
<rect x="254.56" y="590.60" width="4.8" height="2.75" fill="#0cc20c"/>
<rect x="260.91" y="589.35" width="4.8" height="4.00" fill="#0cc20c"/>
<rect x="267.26" y="587.85" width="4.8" height="5.50" fill="#0cc20c"/>
<rect x="273.61" y="588.60" width="4.8" height="4.75" fill="#12a612"/>
<rect x="279.97" y="588.60" width="4.8" height="4.75" fill="#0cc20c"/>
<rect x="286.32" y="587.10" width="4.8" height="6.25" fill="#0cc20c"/>
<rect x="292.67" y="583.85" width="4.8" height="9.50" fill="#0cc20c"/>
<rect x="299.02" y="581.35" width="4.8" height="12.00" fill="#0cc20c"/>
<rect x="305.38" y="580.60" width="4.8" height="12.75" fill="#0cc20c"/>
<rect x="311.73" y="582.60" width="4.8" height="10.75" fill="#12a612"/>
<rect x="318.08" y="581.35" width="4.8" height="12.00" fill="#0cc20c"/>
<rect x="324.43" y="583.35" width="4.8" height="10.00" fill="#12a612"/>
<rect x="330.78" y="585.35" width="4.8" height="8.00" fill="#12a612"/>
<rect x="337.14" y="586.85" width="4.8" height="6.50" fill="#12a612"/>
<rect x="343.49" y="588.10" width="4.8" height="5.25" fill="#12a612"/>
<rect x="349.84" y="589.35" width="4.8" height="4.00" fill="#12a612"/>
<rect x="356.19" y="590.10" width="4.8" height="3.25" fill="#12a612"/>
<rect x="362.55" y="591.10" width="4.8" height="2.25" fill="#12a612"/>
<rect x="368.90" y="591.85" width="4.8" height="1.50" fill="#12a612"/>
<rect x="375.25" y="592.85" width="4.8" height="0.50" fill="#12a612"/>
<rect x="387.95" y="592.85" width="4.8" height="0.50" fill="#0cc20c"/>
<rect x="394.31" y="592.85" width="4.8" height="0.50" fill="#0cc20c"/>
<rect x="407.01" y="590.85" width="4.8" height="2.50" fill="#0cc20c"/>
<rect x="413.36" y="588.85" width="4.8" height="4.50" fill="#0cc20c"/>
<rect x="419.72" y="588.10" width="4.8" height="5.25" fill="#0cc20c"/>
<rect x="426.07" y="586.35" width="4.8" height="7.00" fill="#0cc20c"/>
<rect x="432.42" y="588.60" width="4.8" height="4.75" fill="#12a612"/>
<rect x="438.77" y="590.85" width="4.8" height="2.50" fill="#12a612"/>
<rect x="445.12" y="593.35" width="4.8" height="4.25" fill="#9a0404"/>
<rect x="451.48" y="593.35" width="4.8" height="9.25" fill="#9a0404"/>
<rect x="457.83" y="593.35" width="4.8" height="12.25" fill="#9a0404"/>
<rect x="464.18" y="593.35" width="4.8" height="14.00" fill="#9a0404"/>
<rect x="470.53" y="593.35" width="4.8" height="15.00" fill="#9a0404"/>
<rect x="476.88" y="593.35" width="4.8" height="14.75" fill="#cc0a0a"/>
<rect x="483.24" y="593.35" width="4.8" height="11.00" fill="#cc0a0a"/>
<rect x="489.59" y="593.35" width="4.8" height="8.50" fill="#cc0a0a"/>
<rect x="495.94" y="593.35" width="4.8" height="5.50" fill="#cc0a0a"/>
<rect x="502.29" y="593.35" width="4.8" height="3.75" fill="#cc0a0a"/>
<rect x="508.65" y="593.35" width="4.8" height="1.75" fill="#cc0a0a"/>
<rect x="521.35" y="592.35" width="4.8" height="1.00" fill="#0cc20c"/>
<rect x="527.70" y="592.10" width="4.8" height="1.25" fill="#0cc20c"/>
<rect x="534.05" y="591.35" width="4.8" height="2.00" fill="#0cc20c"/>
<rect x="540.41" y="592.85" width="4.8" height="0.50" fill="#12a612"/>
<rect x="546.76" y="593.35" width="4.8" height="1.00" fill="#9a0404"/>
<rect x="553.11" y="593.35" width="4.8" height="2.25" fill="#9a0404"/>
<rect x="559.46" y="593.35" width="4.8" height="2.25" fill="#9a0404"/>
<rect x="572.17" y="593.35" width="4.8" height="1.75" fill="#9a0404"/>
<rect x="578.52" y="593.35" width="4.8" height="1.00" fill="#cc0a0a"/>
<rect x="591.22" y="593.35" width="4.8" height="1.75" fill="#9a0404"/>
<rect x="597.58" y="593.35" width="4.8" height="1.00" fill="#cc0a0a"/>
<rect x="603.93" y="593.35" width="4.8" height="1.00" fill="#9a0404"/>
<rect x="610.28" y="593.35" width="4.8" height="1.50" fill="#9a0404"/>
<rect x="616.63" y="593.35" width="4.8" height="2.00" fill="#9a0404"/>
<rect x="622.99" y="593.35" width="4.8" height="3.00" fill="#9a0404"/>
<rect x="629.34" y="593.35" width="4.8" height="4.00" fill="#9a0404"/>
<rect x="635.69" y="593.35" width="4.8" height="4.50" fill="#9a0404"/>
<rect x="642.04" y="593.35" width="4.8" height="4.50" fill="#9a0404"/>
<rect x="648.39" y="593.35" width="4.8" height="4.75" fill="#9a0404"/>
<rect x="654.75" y="593.35" width="4.8" height="5.50" fill="#9a0404"/>
<rect x="661.10" y="593.35" width="4.8" height="7.25" fill="#9a0404"/>
<rect x="667.45" y="593.35" width="4.8" height="3.75" fill="#cc0a0a"/>
<rect x="680.16" y="591.35" width="4.8" height="2.00" fill="#0cc20c"/>
<rect x="686.51" y="589.35" width="4.8" height="4.00" fill="#0cc20c"/>
<rect x="692.86" y="588.10" width="4.8" height="5.25" fill="#0cc20c"/>
<rect x="699.21" y="585.60" width="4.8" height="7.75" fill="#0cc20c"/>
<rect x="705.56" y="585.60" width="4.8" height="7.75" fill="#0cc20c"/>
<rect x="711.92" y="584.35" width="4.8" height="9.00" fill="#0cc20c"/>
<rect x="718.27" y="584.35" width="4.8" height="9.00" fill="#0cc20c"/>
<rect x="724.62" y="580.10" width="4.8" height="13.25" fill="#0cc20c"/>
<rect x="730.97" y="579.35" width="4.8" height="14.00" fill="#0cc20c"/>
<rect x="737.33" y="581.35" width="4.8" height="12.00" fill="#12a612"/>
<rect x="743.68" y="582.10" width="4.8" height="11.25" fill="#12a612"/>
<rect x="750.03" y="583.10" width="4.8" height="10.25" fill="#12a612"/>
<rect x="756.38" y="585.85" width="4.8" height="7.50" fill="#12a612"/>
<rect x="762.73" y="585.60" width="4.8" height="7.75" fill="#0cc20c"/>
<rect x="769.09" y="585.10" width="4.8" height="8.25" fill="#0cc20c"/>
<rect x="775.44" y="587.60" width="4.8" height="5.75" fill="#12a612"/>
<rect x="781.79" y="588.10" width="4.8" height="5.25" fill="#12a612"/>
<rect x="788.14" y="589.35" width="4.8" height="4.00" fill="#12a612"/>
<rect x="794.50" y="592.35" width="4.8" height="1.00" fill="#12a612"/>
<rect x="807.20" y="593.35" width="4.8" height="1.00" fill="#9a0404"/>
<rect x="813.55" y="593.35" width="4.8" height="2.50" fill="#9a0404"/>
<rect x="819.90" y="593.35" width="4.8" height="4.00" fill="#9a0404"/>
<rect x="826.26" y="593.35" width="4.8" height="6.50" fill="#9a0404"/>
<rect x="832.61" y="593.35" width="4.8" height="8.50" fill="#9a0404"/>
<rect x="838.96" y="593.35" width="4.8" height="10.75" fill="#9a0404"/>
<rect x="845.31" y="593.35" width="4.8" height="11.75" fill="#9a0404"/>
<rect x="851.66" y="593.35" width="4.8" height="15.00" fill="#9a0404"/>
<rect x="858.02" y="593.35" width="4.8" height="17.50" fill="#9a0404"/>
<rect x="864.37" y="593.35" width="4.8" height="17.25" fill="#cc0a0a"/>
<rect x="870.72" y="593.35" width="4.8" height="16.50" fill="#cc0a0a"/>
<rect x="877.07" y="593.35" width="4.8" height="15.50" fill="#cc0a0a"/>
<rect x="883.43" y="593.35" width="4.8" height="15.00" fill="#cc0a0a"/>
<rect x="889.78" y="593.35" width="4.8" height="13.75" fill="#cc0a0a"/>
<rect x="896.13" y="593.35" width="4.8" height="12.50" fill="#cc0a0a"/>
<rect x="902.48" y="593.35" width="4.8" height="11.00" fill="#cc0a0a"/>
<rect x="908.83" y="593.35" width="4.8" height="10.50" fill="#cc0a0a"/>
<rect x="915.19" y="593.35" width="4.8" height="10.00" fill="#cc0a0a"/>
<rect x="921.54" y="593.35" width="4.8" height="10.00" fill="#9a0404"/>
<rect x="927.89" y="593.35" width="4.8" height="8.75" fill="#cc0a0a"/>
<rect x="934.24" y="593.35" width="4.8" height="8.50" fill="#cc0a0a"/>
<rect x="940.60" y="593.35" width="4.8" height="7.50" fill="#cc0a0a"/>
<rect x="946.95" y="593.35" width="4.8" height="6.50" fill="#cc0a0a"/>
<path d="M0.00 603.75C4.17 603.96 12.50 604.71 25.00 605.00C37.50 605.29 62.50 605.58 75.00 605.50C87.50 605.42 93.75 604.71 100.00 604.50C106.25 604.29 108.33 603.75 112.50 604.25C116.67 604.75 120.42 605.79 125.00 607.50C129.58 609.21 135.00 612.62 140.00 614.50C145.00 616.38 150.00 617.92 155.00 618.75C160.00 619.58 165.00 619.79 170.00 619.50C175.00 619.21 179.17 618.04 185.00 617.00C190.83 615.96 198.33 614.33 205.00 613.25C211.67 612.17 219.17 611.08 225.00 610.50C230.83 609.92 235.42 610.08 240.00 609.75C244.58 609.42 248.33 609.25 252.50 608.50C256.67 607.75 260.83 606.42 265.00 605.25C269.17 604.08 273.33 602.75 277.50 601.50C281.67 600.25 285.83 599.17 290.00 597.75C294.17 596.33 298.33 594.75 302.50 593.00C306.67 591.25 310.83 589.04 315.00 587.25C319.17 585.46 323.33 583.79 327.50 582.25C331.67 580.71 335.83 579.25 340.00 578.00C344.17 576.75 348.33 575.67 352.50 574.75C356.67 573.83 360.83 573.08 365.00 572.50C369.17 571.92 373.33 571.54 377.50 571.25C381.67 570.96 385.83 570.88 390.00 570.75C394.17 570.62 398.33 571.00 402.50 570.50C406.67 570.00 410.83 568.83 415.00 567.75C419.17 566.67 423.75 565.00 427.50 564.00C431.25 563.00 434.58 562.17 437.50 561.75C440.42 561.33 442.50 561.12 445.00 561.50C447.50 561.88 449.17 562.42 452.50 564.00C455.83 565.58 460.83 568.79 465.00 571.00C469.17 573.21 473.75 575.67 477.50 577.25C481.25 578.83 484.17 579.54 487.50 580.50C490.83 581.46 493.75 582.42 497.50 583.00C501.25 583.58 505.83 584.00 510.00 584.00C514.17 584.00 517.92 583.42 522.50 583.00C527.08 582.58 532.08 581.62 537.50 581.50C542.92 581.38 547.92 582.08 555.00 582.25C562.08 582.42 571.67 582.46 580.00 582.50C588.33 582.54 597.92 582.42 605.00 582.50C612.08 582.58 617.50 582.71 622.50 583.00C627.50 583.29 630.42 583.62 635.00 584.25C639.58 584.88 645.42 585.92 650.00 586.75C654.58 587.58 658.75 588.62 662.50 589.25C666.25 589.88 669.58 590.42 672.50 590.50C675.42 590.58 676.67 590.38 680.00 589.75C683.33 589.12 688.33 588.00 692.50 586.75C696.67 585.50 700.83 583.83 705.00 582.25C709.17 580.67 712.92 579.12 717.50 577.25C722.08 575.38 727.92 573.08 732.50 571.00C737.08 568.92 740.83 566.62 745.00 564.75C749.17 562.88 753.33 561.33 757.50 559.75C761.67 558.17 765.83 556.71 770.00 555.25C774.17 553.79 778.33 552.12 782.50 551.00C786.67 549.88 790.83 549.00 795.00 548.50C799.17 548.00 803.33 547.92 807.50 548.00C811.67 548.08 815.83 548.29 820.00 549.00C824.17 549.71 828.33 550.88 832.50 552.25C836.67 553.62 840.83 555.17 845.00 557.25C849.17 559.33 853.33 562.12 857.50 564.75C861.67 567.38 865.83 570.38 870.00 573.00C874.17 575.62 878.33 578.21 882.50 580.50C886.67 582.79 890.83 584.79 895.00 586.75C899.17 588.71 903.33 590.58 907.50 592.25C911.67 593.92 915.83 595.38 920.00 596.75C924.17 598.12 928.33 599.29 932.50 600.50C936.67 601.71 942.08 603.21 945.00 604.00C947.92 604.79 949.17 605.04 950.00 605.25" stroke="#3c3cf0" stroke-width="1.25" fill="none" stroke-linejoin="round"/>
<path d="M0.00 607.50C2.50 606.96 11.25 604.46 15.00 604.25C18.75 604.04 16.67 606.04 22.50 606.25C28.33 606.46 42.50 605.38 50.00 605.50C57.50 605.62 61.67 606.88 67.50 607.00C73.33 607.12 80.42 606.79 85.00 606.25C89.58 605.71 91.67 604.46 95.00 603.75C98.33 603.04 102.50 601.79 105.00 602.00C107.50 602.21 107.08 602.83 110.00 605.00C112.92 607.17 118.12 611.58 122.50 615.00C126.88 618.42 132.50 623.62 136.25 625.50C140.00 627.38 141.88 626.67 145.00 626.25C148.12 625.83 150.00 624.46 155.00 623.00C160.00 621.54 169.17 619.17 175.00 617.50C180.83 615.83 184.58 614.33 190.00 613.00C195.42 611.67 201.67 610.33 207.50 609.50C213.33 608.67 219.58 608.21 225.00 608.00C230.42 607.79 235.83 608.38 240.00 608.25C244.17 608.12 246.67 608.12 250.00 607.25C253.33 606.38 256.67 604.46 260.00 603.00C263.33 601.54 267.08 599.42 270.00 598.50C272.92 597.58 275.00 597.92 277.50 597.50C280.00 597.08 282.50 597.00 285.00 596.00C287.50 595.00 290.00 593.58 292.50 591.50C295.00 589.42 297.29 585.88 300.00 583.50C302.71 581.12 306.25 578.62 308.75 577.25C311.25 575.88 312.71 576.08 315.00 575.25C317.29 574.42 320.00 573.00 322.50 572.25C325.00 571.50 327.08 571.21 330.00 570.75C332.92 570.29 336.67 569.71 340.00 569.50C343.33 569.29 346.67 569.62 350.00 569.50C353.33 569.38 356.25 568.79 360.00 568.75C363.75 568.71 368.54 568.92 372.50 569.25C376.46 569.58 380.62 570.71 383.75 570.75C386.88 570.79 387.92 569.62 391.25 569.50C394.58 569.38 400.21 570.92 403.75 570.00C407.29 569.08 409.38 565.62 412.50 564.00C415.62 562.38 419.67 561.50 422.50 560.25C425.33 559.00 427.00 556.96 429.50 556.50C432.00 556.04 435.25 557.04 437.50 557.50C439.75 557.96 441.12 557.83 443.00 559.25C444.88 560.67 446.75 563.62 448.75 566.00C450.75 568.38 452.92 571.33 455.00 573.50C457.08 575.67 459.17 577.33 461.25 579.00C463.33 580.67 465.42 582.12 467.50 583.50C469.58 584.88 471.67 585.96 473.75 587.25C475.83 588.54 476.88 590.96 480.00 591.25C483.12 591.54 488.33 589.67 492.50 589.00C496.67 588.33 500.83 588.25 505.00 587.25C509.17 586.25 514.17 584.00 517.50 583.00C520.83 582.00 521.67 581.83 525.00 581.25C528.33 580.67 534.17 579.54 537.50 579.50C540.83 579.46 542.08 580.29 545.00 581.00C547.92 581.71 552.29 583.21 555.00 583.75C557.71 584.29 558.96 584.54 561.25 584.25C563.54 583.96 566.46 582.21 568.75 582.00C571.04 581.79 572.71 582.83 575.00 583.00C577.29 583.17 580.21 583.21 582.50 583.00C584.79 582.79 586.67 581.67 588.75 581.75C590.83 581.83 592.29 583.33 595.00 583.50C597.71 583.67 602.08 582.75 605.00 582.75C607.92 582.75 610.00 583.38 612.50 583.50C615.00 583.62 617.08 582.96 620.00 583.50C622.92 584.04 626.25 585.71 630.00 586.75C633.75 587.79 638.75 589.00 642.50 589.75C646.25 590.50 649.79 590.54 652.50 591.25C655.21 591.96 656.67 593.38 658.75 594.00C660.83 594.62 663.12 595.08 665.00 595.00C666.88 594.92 668.33 594.38 670.00 593.50C671.67 592.62 672.50 591.21 675.00 589.75C677.50 588.29 681.67 586.29 685.00 584.75C688.33 583.21 692.29 581.96 695.00 580.50C697.71 579.04 698.75 577.38 701.25 576.00C703.75 574.62 706.67 573.71 710.00 572.25C713.33 570.79 718.33 569.33 721.25 567.25C724.17 565.17 725.21 561.83 727.50 559.75C729.79 557.67 732.50 555.88 735.00 554.75C737.50 553.62 739.58 553.79 742.50 553.00C745.42 552.21 749.58 550.46 752.50 550.00C755.42 549.54 756.67 551.04 760.00 550.25C763.33 549.46 767.92 546.17 772.50 545.25C777.08 544.33 783.75 544.54 787.50 544.75C791.25 544.96 792.08 545.88 795.00 546.50C797.92 547.12 801.67 547.67 805.00 548.50C808.33 549.33 811.67 550.25 815.00 551.50C818.33 552.75 821.67 554.21 825.00 556.00C828.33 557.79 831.04 559.83 835.00 562.25C838.96 564.67 844.58 567.17 848.75 570.50C852.92 573.83 856.46 579.46 860.00 582.25C863.54 585.04 866.67 585.58 870.00 587.25C873.33 588.92 876.67 590.46 880.00 592.25C883.33 594.04 886.67 596.46 890.00 598.00C893.33 599.54 896.25 600.58 900.00 601.50C903.75 602.42 908.33 602.46 912.50 603.50C916.67 604.54 921.25 606.71 925.00 607.75C928.75 608.79 931.88 609.12 935.00 609.75C938.12 610.38 941.25 611.29 943.75 611.50C946.25 611.71 948.96 611.08 950.00 611.00" stroke="#161616" stroke-width="1.75" fill="none" stroke-linejoin="round"/>
<text class="ax" x="978.6" y="545.4" textLength="39.5" lengthAdjust="spacing">8.667713</text><text class="ax" x="978.6" y="596.1">0</text><text class="ax" x="978.6" y="630.6" textLength="45" lengthAdjust="spacing">-5.810594</text>
<rect x="0.00" y="638" width="6.65" height="12.6" fill="#98c80c"/>
<rect x="6.35" y="638" width="19.36" height="12.6" fill="#78c808"/>
<rect x="25.41" y="638" width="6.65" height="12.6" fill="#98c80c"/>
<rect x="31.76" y="638" width="6.65" height="12.6" fill="#a8c80c"/>
<rect x="38.11" y="638" width="13.00" height="12.6" fill="#98c80c"/>
<rect x="50.82" y="638" width="6.65" height="12.6" fill="#78c808"/>
<rect x="57.17" y="638" width="13.00" height="12.6" fill="#2cc810"/>
<rect x="69.87" y="638" width="13.00" height="12.6" fill="#0cc40c"/>
<rect x="82.58" y="638" width="6.65" height="12.6" fill="#64c80c"/>
<rect x="88.93" y="638" width="6.65" height="12.6" fill="#c8c810"/>
<rect x="95.28" y="638" width="13.00" height="12.6" fill="#d06600"/>
<rect x="107.99" y="638" width="6.65" height="12.6" fill="#88c80c"/>
<rect x="114.34" y="638" width="6.65" height="12.6" fill="#0cc40c"/>
<rect x="120.69" y="638" width="13.00" height="12.6" fill="#0ca40c"/>
<rect x="133.40" y="638" width="6.65" height="12.6" fill="#008811"/>
<rect x="139.75" y="638" width="6.65" height="12.6" fill="#1cc810"/>
<rect x="146.10" y="638" width="6.65" height="12.6" fill="#88c80c"/>
<rect x="152.45" y="638" width="6.65" height="12.6" fill="#c8c810"/>
<rect x="158.81" y="638" width="6.65" height="12.6" fill="#d49000"/>
<rect x="165.16" y="638" width="6.65" height="12.6" fill="#d47200"/>
<rect x="171.51" y="638" width="25.71" height="12.6" fill="#d84008"/>
<rect x="196.92" y="638" width="13.00" height="12.6" fill="#d41010"/>
<rect x="209.62" y="638" width="6.65" height="12.6" fill="#d84008"/>
<rect x="215.97" y="638" width="6.65" height="12.6" fill="#d47200"/>
<rect x="222.33" y="638" width="6.65" height="12.6" fill="#d8a808"/>
<rect x="228.68" y="638" width="6.65" height="12.6" fill="#98c80c"/>
<rect x="235.03" y="638" width="6.65" height="12.6" fill="#64c80c"/>
<rect x="241.38" y="638" width="6.65" height="12.6" fill="#1cc810"/>
<rect x="247.74" y="638" width="6.65" height="12.6" fill="#50c80c"/>
<rect x="254.09" y="638" width="6.65" height="12.6" fill="#d8a808"/>
<rect x="260.44" y="638" width="25.71" height="12.6" fill="#cc0800"/>
<rect x="285.85" y="638" width="25.71" height="12.6" fill="#980000"/>
<rect x="311.26" y="638" width="6.65" height="12.6" fill="#cc0800"/>
<rect x="317.61" y="638" width="6.65" height="12.6" fill="#b80400"/>
<rect x="323.96" y="638" width="6.65" height="12.6" fill="#d84c00"/>
<rect x="330.31" y="638" width="13.00" height="12.6" fill="#d47200"/>
<rect x="343.02" y="638" width="13.00" height="12.6" fill="#d8a808"/>
<rect x="355.72" y="638" width="13.00" height="12.6" fill="#cc8800"/>
<rect x="368.43" y="638" width="6.65" height="12.6" fill="#d84c00"/>
<rect x="374.78" y="638" width="13.00" height="12.6" fill="#c8c810"/>
<rect x="387.48" y="638" width="6.65" height="12.6" fill="#d47200"/>
<rect x="393.84" y="638" width="6.65" height="12.6" fill="#c8c810"/>
<rect x="400.19" y="638" width="6.65" height="12.6" fill="#d49000"/>
<rect x="406.54" y="638" width="13.00" height="12.6" fill="#b80400"/>
<rect x="419.25" y="638" width="13.00" height="12.6" fill="#980000"/>
<rect x="431.95" y="638" width="6.65" height="12.6" fill="#d49000"/>
<rect x="438.30" y="638" width="6.65" height="12.6" fill="#d8a808"/>
<rect x="444.65" y="638" width="6.65" height="12.6" fill="#78c808"/>
<rect x="451.01" y="638" width="6.65" height="12.6" fill="#1cc810"/>
<rect x="457.36" y="638" width="13.00" height="12.6" fill="#0ca40c"/>
<rect x="470.06" y="638" width="13.00" height="12.6" fill="#008800"/>
<rect x="482.77" y="638" width="6.65" height="12.6" fill="#1cc810"/>
<rect x="489.12" y="638" width="6.65" height="12.6" fill="#88c80c"/>
<rect x="495.47" y="638" width="6.65" height="12.6" fill="#c8c810"/>
<rect x="501.82" y="638" width="6.65" height="12.6" fill="#d8a808"/>
<rect x="508.18" y="638" width="6.65" height="12.6" fill="#d49000"/>
<rect x="514.53" y="638" width="6.65" height="12.6" fill="#d47200"/>
<rect x="520.88" y="638" width="6.65" height="12.6" fill="#d84c00"/>
<rect x="527.23" y="638" width="6.65" height="12.6" fill="#cc0800"/>
<rect x="533.58" y="638" width="6.65" height="12.6" fill="#b80400"/>
<rect x="539.94" y="638" width="6.65" height="12.6" fill="#cc0800"/>
<rect x="546.29" y="638" width="6.65" height="12.6" fill="#d49000"/>
<rect x="552.64" y="638" width="13.00" height="12.6" fill="#c8c810"/>
<rect x="565.35" y="638" width="6.65" height="12.6" fill="#d8a808"/>
<rect x="571.70" y="638" width="13.00" height="12.6" fill="#c8c810"/>
<rect x="584.40" y="638" width="6.65" height="12.6" fill="#d47200"/>
<rect x="590.75" y="638" width="6.65" height="12.6" fill="#c8c810"/>
<rect x="597.11" y="638" width="13.00" height="12.6" fill="#d8a808"/>
<rect x="609.81" y="638" width="6.65" height="12.6" fill="#88c80c"/>
<rect x="616.16" y="638" width="6.65" height="12.6" fill="#c8c810"/>
<rect x="622.52" y="638" width="6.65" height="12.6" fill="#88c80c"/>
<rect x="628.87" y="638" width="6.65" height="12.6" fill="#40c80c"/>
<rect x="635.22" y="638" width="6.65" height="12.6" fill="#1cc810"/>
<rect x="641.57" y="638" width="13.00" height="12.6" fill="#0cc40c"/>
<rect x="654.28" y="638" width="6.65" height="12.6" fill="#0ca40c"/>
<rect x="660.63" y="638" width="6.65" height="12.6" fill="#008800"/>
<rect x="666.98" y="638" width="6.65" height="12.6" fill="#78c808"/>
<rect x="673.33" y="638" width="6.65" height="12.6" fill="#d49000"/>
<rect x="679.69" y="638" width="6.65" height="12.6" fill="#d84c00"/>
<rect x="686.04" y="638" width="6.65" height="12.6" fill="#cc0800"/>
<rect x="692.39" y="638" width="6.65" height="12.6" fill="#b80400"/>
<rect x="698.74" y="638" width="13.00" height="12.6" fill="#a80000"/>
<rect x="711.45" y="638" width="13.00" height="12.6" fill="#840000"/>
<rect x="724.15" y="638" width="6.65" height="12.6" fill="#7a0000"/>
<rect x="730.50" y="638" width="6.65" height="12.6" fill="#a80000"/>
<rect x="736.86" y="638" width="19.36" height="12.6" fill="#d06600"/>
<rect x="755.91" y="638" width="6.65" height="12.6" fill="#d49000"/>
<rect x="762.26" y="638" width="6.65" height="12.6" fill="#d47200"/>
<rect x="768.62" y="638" width="6.65" height="12.6" fill="#d84c00"/>
<rect x="774.97" y="638" width="6.65" height="12.6" fill="#d49000"/>
<rect x="781.32" y="638" width="6.65" height="12.6" fill="#d47200"/>
<rect x="787.67" y="638" width="6.65" height="12.6" fill="#d49000"/>
<rect x="794.02" y="638" width="19.36" height="12.6" fill="#c8c810"/>
<rect x="813.08" y="638" width="13.00" height="12.6" fill="#78c808"/>
<rect x="825.79" y="638" width="6.65" height="12.6" fill="#50c80c"/>
<rect x="832.14" y="638" width="6.65" height="12.6" fill="#1cc810"/>
<rect x="838.49" y="638" width="13.00" height="12.6" fill="#0ca40c"/>
<rect x="851.19" y="638" width="6.65" height="12.6" fill="#008800"/>
<rect x="857.55" y="638" width="6.65" height="12.6" fill="#007700"/>
<rect x="863.90" y="638" width="13.00" height="12.6" fill="#0ca40c"/>
<rect x="876.60" y="638" width="6.65" height="12.6" fill="#0cc40c"/>
<rect x="882.96" y="638" width="6.65" height="12.6" fill="#1cc810"/>
<rect x="889.31" y="638" width="19.36" height="12.6" fill="#0cc40c"/>
<rect x="908.36" y="638" width="6.65" height="12.6" fill="#0ca40c"/>
<rect x="914.72" y="638" width="32.06" height="12.6" fill="#008800"/>
<rect x="946.48" y="638" width="7.52" height="12.6" fill="#98c80c"/>
<rect x="0.00" y="661" width="6.65" height="13.6" fill="#88c80c"/>
<rect x="6.35" y="661" width="19.36" height="13.6" fill="#78c808"/>
<rect x="25.41" y="661" width="25.71" height="13.6" fill="#98c80c"/>
<rect x="50.82" y="661" width="6.65" height="13.6" fill="#78c808"/>
<rect x="57.17" y="661" width="6.65" height="13.6" fill="#2cc810"/>
<rect x="63.52" y="661" width="19.36" height="13.6" fill="#1cc810"/>
<rect x="82.58" y="661" width="6.65" height="13.6" fill="#64c80c"/>
<rect x="88.93" y="661" width="6.65" height="13.6" fill="#88c80c"/>
<rect x="95.28" y="661" width="6.65" height="13.6" fill="#d49000"/>
<rect x="101.64" y="661" width="6.65" height="13.6" fill="#d06600"/>
<rect x="107.99" y="661" width="6.65" height="13.6" fill="#c8c810"/>
<rect x="114.34" y="661" width="6.65" height="13.6" fill="#1cc810"/>
<rect x="120.69" y="661" width="19.36" height="13.6" fill="#0cc40c"/>
<rect x="139.75" y="661" width="6.65" height="13.6" fill="#1cc810"/>
<rect x="146.10" y="661" width="6.65" height="13.6" fill="#64c80c"/>
<rect x="152.45" y="661" width="6.65" height="13.6" fill="#c8c810"/>
<rect x="158.81" y="661" width="6.65" height="13.6" fill="#d8a808"/>
<rect x="165.16" y="661" width="6.65" height="13.6" fill="#d49000"/>
<rect x="171.51" y="661" width="6.65" height="13.6" fill="#d48000"/>
<rect x="177.86" y="661" width="6.65" height="13.6" fill="#d06600"/>
<rect x="184.21" y="661" width="19.36" height="13.6" fill="#d84008"/>
<rect x="203.27" y="661" width="6.65" height="13.6" fill="#d48000"/>
<rect x="209.62" y="661" width="6.65" height="13.6" fill="#d8a808"/>
<rect x="215.97" y="661" width="6.65" height="13.6" fill="#c8c810"/>
<rect x="222.33" y="661" width="6.65" height="13.6" fill="#b4c80c"/>
<rect x="228.68" y="661" width="6.65" height="13.6" fill="#88c80c"/>
<rect x="235.03" y="661" width="6.65" height="13.6" fill="#40c80c"/>
<rect x="241.38" y="661" width="6.65" height="13.6" fill="#1cc810"/>
<rect x="247.74" y="661" width="6.65" height="13.6" fill="#78c808"/>
<rect x="254.09" y="661" width="6.65" height="13.6" fill="#d8a808"/>
<rect x="260.44" y="661" width="6.65" height="13.6" fill="#d47200"/>
<rect x="266.79" y="661" width="6.65" height="13.6" fill="#cc0800"/>
<rect x="273.14" y="661" width="13.00" height="13.6" fill="#d84c00"/>
<rect x="285.85" y="661" width="6.65" height="13.6" fill="#cc0800"/>
<rect x="292.20" y="661" width="6.65" height="13.6" fill="#b80400"/>
<rect x="298.55" y="661" width="13.00" height="13.6" fill="#980000"/>
<rect x="311.26" y="661" width="13.00" height="13.6" fill="#a80000"/>
<rect x="323.96" y="661" width="13.00" height="13.6" fill="#cc0800"/>
<rect x="336.67" y="661" width="6.65" height="13.6" fill="#d47200"/>
<rect x="343.02" y="661" width="19.36" height="13.6" fill="#d8a808"/>
<rect x="362.08" y="661" width="19.36" height="13.6" fill="#cc8800"/>
<rect x="381.13" y="661" width="6.65" height="13.6" fill="#c8a808"/>
<rect x="387.48" y="661" width="19.36" height="13.6" fill="#d47200"/>
<rect x="406.54" y="661" width="6.65" height="13.6" fill="#d84c00"/>
<rect x="412.89" y="661" width="13.00" height="13.6" fill="#cc0800"/>
<rect x="425.60" y="661" width="6.65" height="13.6" fill="#a80000"/>
<rect x="431.95" y="661" width="6.65" height="13.6" fill="#cc0800"/>
<rect x="438.30" y="661" width="6.65" height="13.6" fill="#d84c00"/>
<rect x="444.65" y="661" width="6.65" height="13.6" fill="#88c80c"/>
<rect x="451.01" y="661" width="6.65" height="13.6" fill="#1cc810"/>
<rect x="457.36" y="661" width="6.65" height="13.6" fill="#0ca40c"/>
<rect x="463.71" y="661" width="19.36" height="13.6" fill="#008800"/>
<rect x="482.77" y="661" width="6.65" height="13.6" fill="#1cc810"/>
<rect x="489.12" y="661" width="6.65" height="13.6" fill="#88c80c"/>
<rect x="495.47" y="661" width="6.65" height="13.6" fill="#d8a808"/>
<rect x="501.82" y="661" width="6.65" height="13.6" fill="#d49000"/>
<rect x="508.18" y="661" width="6.65" height="13.6" fill="#d47200"/>
<rect x="514.53" y="661" width="6.65" height="13.6" fill="#d84c00"/>
<rect x="520.88" y="661" width="13.00" height="13.6" fill="#cc0800"/>
<rect x="533.58" y="661" width="6.65" height="13.6" fill="#b80400"/>
<rect x="539.94" y="661" width="6.65" height="13.6" fill="#cc0800"/>
<rect x="546.29" y="661" width="6.65" height="13.6" fill="#d49000"/>
<rect x="552.64" y="661" width="6.65" height="13.6" fill="#c8c810"/>
<rect x="558.99" y="661" width="6.65" height="13.6" fill="#98c80c"/>
<rect x="565.35" y="661" width="6.65" height="13.6" fill="#d8a808"/>
<rect x="571.70" y="661" width="19.36" height="13.6" fill="#cc8800"/>
<rect x="590.75" y="661" width="13.00" height="13.6" fill="#d8a808"/>
<rect x="603.46" y="661" width="19.36" height="13.6" fill="#c8c810"/>
<rect x="622.52" y="661" width="6.65" height="13.6" fill="#88c80c"/>
<rect x="628.87" y="661" width="6.65" height="13.6" fill="#50c80c"/>
<rect x="635.22" y="661" width="6.65" height="13.6" fill="#1cc810"/>
<rect x="641.57" y="661" width="19.36" height="13.6" fill="#0cc40c"/>
<rect x="660.63" y="661" width="6.65" height="13.6" fill="#0ca40c"/>
<rect x="666.98" y="661" width="6.65" height="13.6" fill="#1cc810"/>
<rect x="673.33" y="661" width="6.65" height="13.6" fill="#d8a808"/>
<rect x="679.69" y="661" width="6.65" height="13.6" fill="#d84c00"/>
<rect x="686.04" y="661" width="6.65" height="13.6" fill="#cc0800"/>
<rect x="692.39" y="661" width="6.65" height="13.6" fill="#b80400"/>
<rect x="698.74" y="661" width="6.65" height="13.6" fill="#a80000"/>
<rect x="705.09" y="661" width="19.36" height="13.6" fill="#7a0000"/>
<rect x="724.15" y="661" width="6.65" height="13.6" fill="#6c0000"/>
<rect x="730.50" y="661" width="6.65" height="13.6" fill="#840000"/>
<rect x="736.86" y="661" width="6.65" height="13.6" fill="#a80000"/>
<rect x="743.21" y="661" width="6.65" height="13.6" fill="#cc0800"/>
<rect x="749.56" y="661" width="6.65" height="13.6" fill="#d84c00"/>
<rect x="755.91" y="661" width="6.65" height="13.6" fill="#d47200"/>
<rect x="762.26" y="661" width="13.00" height="13.6" fill="#d84c00"/>
<rect x="774.97" y="661" width="19.36" height="13.6" fill="#d47200"/>
<rect x="794.02" y="661" width="6.65" height="13.6" fill="#d49000"/>
<rect x="800.38" y="661" width="6.65" height="13.6" fill="#d8a808"/>
<rect x="806.73" y="661" width="13.00" height="13.6" fill="#c8c810"/>
<rect x="819.43" y="661" width="6.65" height="13.6" fill="#98c80c"/>
<rect x="825.79" y="661" width="6.65" height="13.6" fill="#50c80c"/>
<rect x="832.14" y="661" width="6.65" height="13.6" fill="#1cc810"/>
<rect x="838.49" y="661" width="6.65" height="13.6" fill="#0ca40c"/>
<rect x="844.84" y="661" width="13.00" height="13.6" fill="#008800"/>
<rect x="857.55" y="661" width="6.65" height="13.6" fill="#007700"/>
<rect x="863.90" y="661" width="6.65" height="13.6" fill="#008800"/>
<rect x="870.25" y="661" width="6.65" height="13.6" fill="#0ca40c"/>
<rect x="876.60" y="661" width="32.06" height="13.6" fill="#0cc40c"/>
<rect x="908.36" y="661" width="6.65" height="13.6" fill="#1cc810"/>
<rect x="914.72" y="661" width="13.00" height="13.6" fill="#0cc40c"/>
<rect x="927.42" y="661" width="19.36" height="13.6" fill="#0ca40c"/>
<rect x="946.48" y="661" width="7.52" height="13.6" fill="#1cc810"/>
<rect x="0.00" y="684.7" width="679.99" height="16.8" fill="#980000"/>
<rect x="679.69" y="684.7" width="6.65" height="16.8" fill="#cc0800"/>
<rect x="686.04" y="684.7" width="13.00" height="16.8" fill="#a80000"/>
<rect x="698.74" y="684.7" width="6.65" height="16.8" fill="#cc0800"/>
<rect x="705.09" y="684.7" width="6.65" height="16.8" fill="#a80000"/>
<rect x="711.45" y="684.7" width="13.00" height="16.8" fill="#cc0800"/>
<rect x="724.15" y="684.7" width="76.53" height="16.8" fill="#c8c804"/>
<rect x="800.38" y="684.7" width="51.12" height="16.8" fill="#06c206"/>
<rect x="851.19" y="684.7" width="102.81" height="16.8" fill="#c8c804"/>
<rect x="3.7" y="640" width="52.6" height="10.6" fill="#f4f1d4"/><text class="bl" x="8" y="648.6">FXC1 39.5</text>
<rect x="3.7" y="663.3" width="52.6" height="11.2" fill="#f4f1d4"/><text class="bl" x="8" y="672.2">FXC2 18.2</text>
<rect x="3.7" y="688.7" width="70.6" height="10.8" fill="#f0d2d2"/><text class="ar" x="7.6" y="697.4">Trend Factor 9.4</text>
<text class="xl" x="27.95" y="708.8">Mar 14</text>
<text class="xl" x="72.40" y="708.8">Mar 26</text>
<text class="xl" x="116.85" y="708.8">Apr 4</text>
<text class="xl" x="161.30" y="708.8">Apr 15</text>
<text class="xl" x="205.75" y="708.8">Apr 29</text>
<text class="xl" x="250.20" y="708.8">May 9</text>
<text class="xl" x="294.65" y="708.8">May 20</text>
<text class="xl" x="339.10" y="708.8">May 29</text>
<text class="xl" x="383.55" y="708.8">Jun 9</text>
<text class="xl" x="428.00" y="708.8">Jun 19</text>
<text class="xl" x="472.45" y="708.8">Jun 30</text>
<text class="xl" x="516.90" y="708.8">Jul 9</text>
<text class="xl" x="561.35" y="708.8">Jul 18</text>
<text class="xl" x="605.80" y="708.8">Jul 29</text>
<text class="xl" x="650.25" y="708.8">Aug 7</text>
<text class="xl" x="694.70" y="708.8">Aug 18</text>
<text class="xl" x="739.15" y="708.8">Aug 27</text>
<text class="xl" x="783.60" y="708.8">Sep 5</text>
<text class="xl" x="828.05" y="708.8">Sep 16</text>
<text class="xl" x="872.50" y="708.8">Sep 26</text>
<text class="xl" x="916.95" y="708.8">Oct 7</text>
<polygon points="172,15 174.3,34.4 189.3,25.6" fill="#00007e"/><path d="M183.6 32.75L204.4 65.8" stroke="#00007e" stroke-width="3.5" stroke-dasharray="9.6 4.9" fill="none"/>
<polygon points="958,145.6 971,131.9 977.9,148.1" fill="#00007e"/><path d="M977.25 138.1L1001.8 129.25" stroke="#00007e" stroke-width="3.5" stroke-dasharray="11.27 3.4" fill="none"/>
<polygon points="952.9,644.6 970,636.9 970,654" fill="#00007e"/><path d="M970 645.6L1002.2 646.9" stroke="#00007e" stroke-width="3.4" stroke-dasharray="3 3.6 11.2 3.2 11.2 3" fill="none"/>
<polygon points="951,669.4 968.5,661 968.5,678.1" fill="#00007e"/><path d="M971.6 669.8H997" stroke="#00007e" stroke-width="3.4" stroke-dasharray="10.4 4" fill="none"/>
</svg></body></html>
